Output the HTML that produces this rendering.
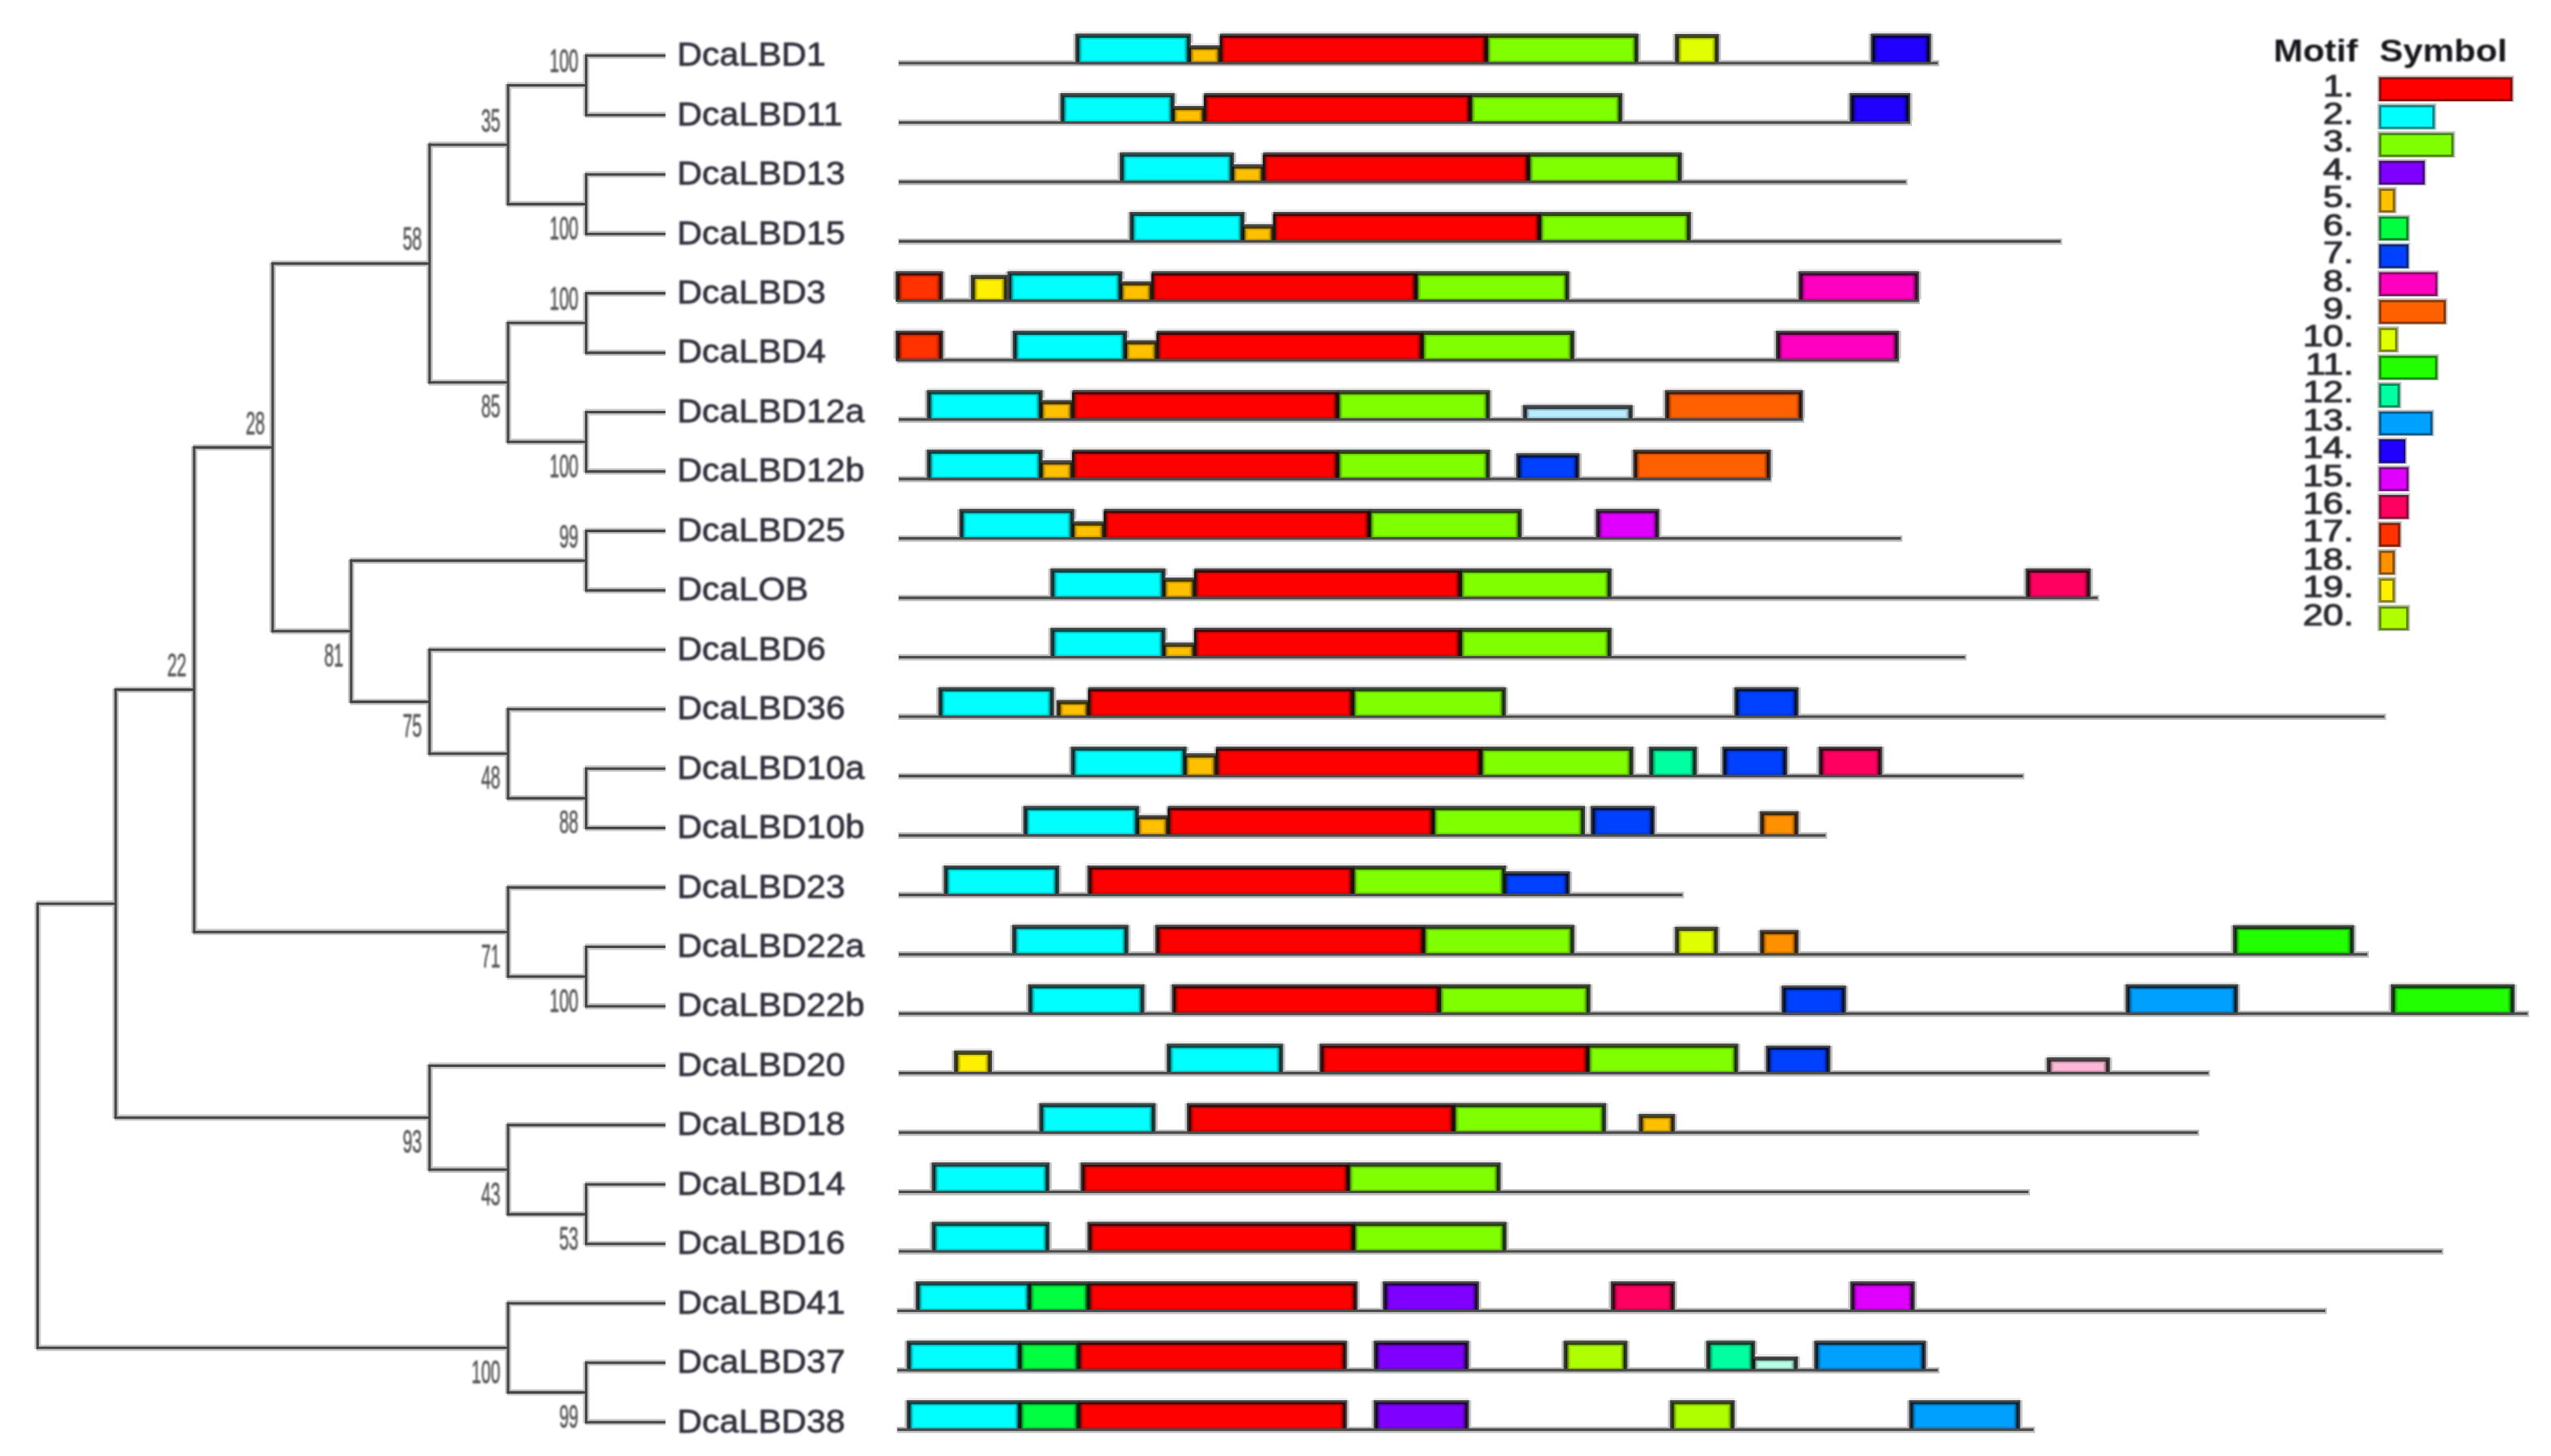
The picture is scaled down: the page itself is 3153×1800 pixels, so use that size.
<!DOCTYPE html>
<html><head><meta charset="utf-8"><title>DcaLBD phylogeny and motifs</title>
<style>html,body{margin:0;padding:0;background:#fff}svg{display:block}text{font-family:"Liberation Sans",sans-serif}.lab{font-size:40px;fill:#33333e;stroke:#33333e;stroke-width:0.8px}.bs{font-size:40px;fill:#555;stroke:#555;stroke-width:0.7px}.hd{font-size:38px;font-weight:bold;fill:#15151a}.ln{font-size:37px;fill:#2a2a30;stroke:#2a2a30;stroke-width:1.1px}</style></head><body>
<svg width="3153" height="1800" viewBox="0 0 3153 1800">
<defs><filter id="bl" x="-2%" y="-2%" width="104%" height="104%"><feGaussianBlur stdDeviation="0.6"/></filter><filter id="bt" x="-2%" y="-2%" width="104%" height="104%"><feGaussianBlur stdDeviation="0.95"/></filter></defs>
<rect width="3153" height="1800" fill="#fff"/>
<g filter="url(#bl)">
<g stroke="#c6c6c6" stroke-width="7.8" stroke-linecap="butt" fill="none">
<line x1="723.1" y1="68.8" x2="822.5" y2="68.8"/>
<line x1="723.1" y1="142.2" x2="822.5" y2="142.2"/>
<line x1="724.5" y1="67.4" x2="724.5" y2="143.7"/>
<line x1="626.6" y1="105.5" x2="725.5" y2="105.5"/>
<line x1="723.1" y1="215.7" x2="822.5" y2="215.7"/>
<line x1="723.1" y1="289.2" x2="822.5" y2="289.2"/>
<line x1="724.5" y1="214.3" x2="724.5" y2="290.6"/>
<line x1="626.6" y1="252.4" x2="725.5" y2="252.4"/>
<line x1="628.0" y1="104.1" x2="628.0" y2="253.8"/>
<line x1="529.6" y1="179.0" x2="629.0" y2="179.0"/>
<line x1="723.1" y1="362.6" x2="822.5" y2="362.6"/>
<line x1="723.1" y1="436.1" x2="822.5" y2="436.1"/>
<line x1="724.5" y1="361.2" x2="724.5" y2="437.4"/>
<line x1="626.6" y1="399.3" x2="725.5" y2="399.3"/>
<line x1="723.1" y1="509.5" x2="822.5" y2="509.5"/>
<line x1="723.1" y1="582.9" x2="822.5" y2="582.9"/>
<line x1="724.5" y1="508.1" x2="724.5" y2="584.3"/>
<line x1="626.6" y1="546.2" x2="725.5" y2="546.2"/>
<line x1="628.0" y1="397.9" x2="628.0" y2="547.6"/>
<line x1="529.6" y1="472.8" x2="629.0" y2="472.8"/>
<line x1="531.0" y1="177.6" x2="531.0" y2="474.2"/>
<line x1="335.6" y1="325.9" x2="532.0" y2="325.9"/>
<line x1="723.1" y1="656.4" x2="822.5" y2="656.4"/>
<line x1="723.1" y1="729.9" x2="822.5" y2="729.9"/>
<line x1="724.5" y1="655.0" x2="724.5" y2="731.2"/>
<line x1="432.6" y1="693.1" x2="725.5" y2="693.1"/>
<line x1="529.6" y1="803.3" x2="822.5" y2="803.3"/>
<line x1="626.6" y1="876.8" x2="822.5" y2="876.8"/>
<line x1="723.1" y1="950.2" x2="822.5" y2="950.2"/>
<line x1="723.1" y1="1023.6" x2="822.5" y2="1023.6"/>
<line x1="724.5" y1="948.8" x2="724.5" y2="1025.0"/>
<line x1="626.6" y1="986.9" x2="725.5" y2="986.9"/>
<line x1="628.0" y1="875.4" x2="628.0" y2="988.3"/>
<line x1="529.6" y1="931.8" x2="629.0" y2="931.8"/>
<line x1="531.0" y1="801.9" x2="531.0" y2="933.2"/>
<line x1="432.6" y1="867.6" x2="532.0" y2="867.6"/>
<line x1="434.0" y1="691.7" x2="434.0" y2="869.0"/>
<line x1="335.6" y1="780.3" x2="435.0" y2="780.3"/>
<line x1="337.0" y1="324.5" x2="337.0" y2="781.7"/>
<line x1="238.6" y1="553.1" x2="338.0" y2="553.1"/>
<line x1="626.6" y1="1097.1" x2="822.5" y2="1097.1"/>
<line x1="723.1" y1="1170.5" x2="822.5" y2="1170.5"/>
<line x1="723.1" y1="1244.0" x2="822.5" y2="1244.0"/>
<line x1="724.5" y1="1169.1" x2="724.5" y2="1245.4"/>
<line x1="626.6" y1="1207.3" x2="725.5" y2="1207.3"/>
<line x1="628.0" y1="1095.7" x2="628.0" y2="1208.7"/>
<line x1="238.6" y1="1152.2" x2="629.0" y2="1152.2"/>
<line x1="240.0" y1="551.7" x2="240.0" y2="1153.6"/>
<line x1="141.6" y1="852.6" x2="241.0" y2="852.6"/>
<line x1="529.6" y1="1317.5" x2="822.5" y2="1317.5"/>
<line x1="626.6" y1="1390.9" x2="822.5" y2="1390.9"/>
<line x1="723.1" y1="1464.3" x2="822.5" y2="1464.3"/>
<line x1="723.1" y1="1537.8" x2="822.5" y2="1537.8"/>
<line x1="724.5" y1="1462.9" x2="724.5" y2="1539.2"/>
<line x1="626.6" y1="1501.1" x2="725.5" y2="1501.1"/>
<line x1="628.0" y1="1389.5" x2="628.0" y2="1502.5"/>
<line x1="529.6" y1="1446.0" x2="629.0" y2="1446.0"/>
<line x1="531.0" y1="1316.0" x2="531.0" y2="1447.4"/>
<line x1="141.6" y1="1381.7" x2="532.0" y2="1381.7"/>
<line x1="143.0" y1="851.2" x2="143.0" y2="1383.1"/>
<line x1="45.1" y1="1117.2" x2="144.0" y2="1117.2"/>
<line x1="626.6" y1="1611.2" x2="822.5" y2="1611.2"/>
<line x1="723.1" y1="1684.7" x2="822.5" y2="1684.7"/>
<line x1="723.1" y1="1758.2" x2="822.5" y2="1758.2"/>
<line x1="724.5" y1="1683.3" x2="724.5" y2="1759.6"/>
<line x1="626.6" y1="1721.4" x2="725.5" y2="1721.4"/>
<line x1="628.0" y1="1609.8" x2="628.0" y2="1722.8"/>
<line x1="45.1" y1="1666.3" x2="629.0" y2="1666.3"/>
<line x1="46.5" y1="1115.8" x2="46.5" y2="1667.7"/>
</g>
<g stroke="#444444" stroke-width="3.1" stroke-linecap="butt" fill="none">
<line x1="723.1" y1="68.8" x2="822.5" y2="68.8"/>
<line x1="723.1" y1="142.2" x2="822.5" y2="142.2"/>
<line x1="724.5" y1="67.4" x2="724.5" y2="143.7"/>
<line x1="626.6" y1="105.5" x2="725.5" y2="105.5"/>
<line x1="723.1" y1="215.7" x2="822.5" y2="215.7"/>
<line x1="723.1" y1="289.2" x2="822.5" y2="289.2"/>
<line x1="724.5" y1="214.3" x2="724.5" y2="290.6"/>
<line x1="626.6" y1="252.4" x2="725.5" y2="252.4"/>
<line x1="628.0" y1="104.1" x2="628.0" y2="253.8"/>
<line x1="529.6" y1="179.0" x2="629.0" y2="179.0"/>
<line x1="723.1" y1="362.6" x2="822.5" y2="362.6"/>
<line x1="723.1" y1="436.1" x2="822.5" y2="436.1"/>
<line x1="724.5" y1="361.2" x2="724.5" y2="437.4"/>
<line x1="626.6" y1="399.3" x2="725.5" y2="399.3"/>
<line x1="723.1" y1="509.5" x2="822.5" y2="509.5"/>
<line x1="723.1" y1="582.9" x2="822.5" y2="582.9"/>
<line x1="724.5" y1="508.1" x2="724.5" y2="584.3"/>
<line x1="626.6" y1="546.2" x2="725.5" y2="546.2"/>
<line x1="628.0" y1="397.9" x2="628.0" y2="547.6"/>
<line x1="529.6" y1="472.8" x2="629.0" y2="472.8"/>
<line x1="531.0" y1="177.6" x2="531.0" y2="474.2"/>
<line x1="335.6" y1="325.9" x2="532.0" y2="325.9"/>
<line x1="723.1" y1="656.4" x2="822.5" y2="656.4"/>
<line x1="723.1" y1="729.9" x2="822.5" y2="729.9"/>
<line x1="724.5" y1="655.0" x2="724.5" y2="731.2"/>
<line x1="432.6" y1="693.1" x2="725.5" y2="693.1"/>
<line x1="529.6" y1="803.3" x2="822.5" y2="803.3"/>
<line x1="626.6" y1="876.8" x2="822.5" y2="876.8"/>
<line x1="723.1" y1="950.2" x2="822.5" y2="950.2"/>
<line x1="723.1" y1="1023.6" x2="822.5" y2="1023.6"/>
<line x1="724.5" y1="948.8" x2="724.5" y2="1025.0"/>
<line x1="626.6" y1="986.9" x2="725.5" y2="986.9"/>
<line x1="628.0" y1="875.4" x2="628.0" y2="988.3"/>
<line x1="529.6" y1="931.8" x2="629.0" y2="931.8"/>
<line x1="531.0" y1="801.9" x2="531.0" y2="933.2"/>
<line x1="432.6" y1="867.6" x2="532.0" y2="867.6"/>
<line x1="434.0" y1="691.7" x2="434.0" y2="869.0"/>
<line x1="335.6" y1="780.3" x2="435.0" y2="780.3"/>
<line x1="337.0" y1="324.5" x2="337.0" y2="781.7"/>
<line x1="238.6" y1="553.1" x2="338.0" y2="553.1"/>
<line x1="626.6" y1="1097.1" x2="822.5" y2="1097.1"/>
<line x1="723.1" y1="1170.5" x2="822.5" y2="1170.5"/>
<line x1="723.1" y1="1244.0" x2="822.5" y2="1244.0"/>
<line x1="724.5" y1="1169.1" x2="724.5" y2="1245.4"/>
<line x1="626.6" y1="1207.3" x2="725.5" y2="1207.3"/>
<line x1="628.0" y1="1095.7" x2="628.0" y2="1208.7"/>
<line x1="238.6" y1="1152.2" x2="629.0" y2="1152.2"/>
<line x1="240.0" y1="551.7" x2="240.0" y2="1153.6"/>
<line x1="141.6" y1="852.6" x2="241.0" y2="852.6"/>
<line x1="529.6" y1="1317.5" x2="822.5" y2="1317.5"/>
<line x1="626.6" y1="1390.9" x2="822.5" y2="1390.9"/>
<line x1="723.1" y1="1464.3" x2="822.5" y2="1464.3"/>
<line x1="723.1" y1="1537.8" x2="822.5" y2="1537.8"/>
<line x1="724.5" y1="1462.9" x2="724.5" y2="1539.2"/>
<line x1="626.6" y1="1501.1" x2="725.5" y2="1501.1"/>
<line x1="628.0" y1="1389.5" x2="628.0" y2="1502.5"/>
<line x1="529.6" y1="1446.0" x2="629.0" y2="1446.0"/>
<line x1="531.0" y1="1316.0" x2="531.0" y2="1447.4"/>
<line x1="141.6" y1="1381.7" x2="532.0" y2="1381.7"/>
<line x1="143.0" y1="851.2" x2="143.0" y2="1383.1"/>
<line x1="45.1" y1="1117.2" x2="144.0" y2="1117.2"/>
<line x1="626.6" y1="1611.2" x2="822.5" y2="1611.2"/>
<line x1="723.1" y1="1684.7" x2="822.5" y2="1684.7"/>
<line x1="723.1" y1="1758.2" x2="822.5" y2="1758.2"/>
<line x1="724.5" y1="1683.3" x2="724.5" y2="1759.6"/>
<line x1="626.6" y1="1721.4" x2="725.5" y2="1721.4"/>
<line x1="628.0" y1="1609.8" x2="628.0" y2="1722.8"/>
<line x1="45.1" y1="1666.3" x2="629.0" y2="1666.3"/>
<line x1="46.5" y1="1115.8" x2="46.5" y2="1667.7"/>
</g>
<line x1="1110.2" y1="78.2" x2="2397" y2="78.2" stroke="#bebebe" stroke-width="7.8"/>
<rect x="1329.2" y="38.7" width="142.6" height="40.5" fill="#e9e9e9"/>
<rect x="1326.5" y="41.7" width="148.0" height="34.5" fill="#c6c6c8"/>
<rect x="1469.6" y="53.1" width="40.6" height="26.1" fill="#e9e9e9"/>
<rect x="1466.9" y="56.1" width="46.0" height="20.1" fill="#c6c6c8"/>
<rect x="1508.0" y="38.7" width="331.2" height="40.5" fill="#e9e9e9"/>
<rect x="1505.3" y="41.7" width="336.6" height="34.5" fill="#c6c6c8"/>
<rect x="1837.0" y="38.7" width="188.2" height="40.5" fill="#e9e9e9"/>
<rect x="1834.3" y="41.7" width="193.6" height="34.5" fill="#c6c6c8"/>
<rect x="2070.2" y="39.1" width="54.3" height="40.1" fill="#e9e9e9"/>
<rect x="2067.5" y="42.1" width="59.7" height="34.1" fill="#c6c6c8"/>
<rect x="2312.3" y="38.7" width="74.4" height="40.5" fill="#e9e9e9"/>
<rect x="2309.6" y="41.7" width="79.8" height="34.5" fill="#c6c6c8"/>
<rect x="1329.2" y="41.7" width="142.6" height="37.5" fill="#3e3e3e"/>
<rect x="1331.5" y="41.7" width="138.0" height="2.7" fill="#4a4a4a"/>
<rect x="1469.6" y="56.1" width="40.6" height="23.1" fill="#3e3e3e"/>
<rect x="1471.9" y="56.1" width="36.0" height="2.7" fill="#4a4a4a"/>
<rect x="1469.2" y="58.8" width="2.7" height="20.4" fill="#121612"/>
<rect x="1508.0" y="41.7" width="331.2" height="37.5" fill="#3e3e3e"/>
<rect x="1510.3" y="41.7" width="326.6" height="2.7" fill="#4a4a4a"/>
<rect x="1507.6" y="44.4" width="2.7" height="34.8" fill="#121612"/>
<rect x="1837.0" y="41.7" width="188.2" height="37.5" fill="#3e3e3e"/>
<rect x="1839.3" y="41.7" width="183.6" height="2.7" fill="#4a4a4a"/>
<rect x="1836.6" y="44.4" width="2.7" height="34.8" fill="#121612"/>
<rect x="2070.2" y="42.1" width="54.3" height="37.1" fill="#3e3e3e"/>
<rect x="2072.5" y="42.1" width="49.7" height="2.7" fill="#4a4a4a"/>
<rect x="2312.3" y="41.7" width="74.4" height="37.5" fill="#3e3e3e"/>
<rect x="2314.6" y="41.7" width="69.8" height="2.7" fill="#4a4a4a"/>
<rect x="1331.5" y="44.4" width="138.0" height="34.8" fill="#002d2d"/>
<rect x="1333.8" y="44.4" width="133.4" height="2.5" fill="#004c4c"/>
<rect x="1333.8" y="46.9" width="133.4" height="30.0" fill="#009999"/>
<rect x="1335.6" y="46.9" width="129.8" height="30.0" fill="#00dbdb"/>
<rect x="1337.6" y="48.9" width="125.8" height="25.5" fill="#00ffff"/>
<rect x="1471.9" y="58.8" width="36.0" height="20.4" fill="#2d2200"/>
<rect x="1471.9" y="58.8" width="33.7" height="2.5" fill="#4c3900"/>
<rect x="1471.9" y="61.3" width="33.7" height="15.6" fill="#997300"/>
<rect x="1473.7" y="61.3" width="30.1" height="15.6" fill="#dba500"/>
<rect x="1475.7" y="63.3" width="26.1" height="11.1" fill="#ffc000"/>
<rect x="1510.3" y="44.4" width="326.6" height="34.8" fill="#2d0000"/>
<rect x="1510.3" y="44.4" width="324.3" height="2.5" fill="#4c0000"/>
<rect x="1510.3" y="46.9" width="324.3" height="30.0" fill="#990000"/>
<rect x="1512.1" y="46.9" width="320.7" height="30.0" fill="#db0000"/>
<rect x="1514.1" y="48.9" width="316.7" height="25.5" fill="#ff0000"/>
<rect x="1839.3" y="44.4" width="183.6" height="34.8" fill="#172d00"/>
<rect x="1839.3" y="44.4" width="181.3" height="2.5" fill="#264c00"/>
<rect x="1839.3" y="46.9" width="181.3" height="30.0" fill="#4c9900"/>
<rect x="1841.1" y="46.9" width="177.7" height="30.0" fill="#6edb00"/>
<rect x="1843.1" y="48.9" width="173.7" height="25.5" fill="#80ff00"/>
<rect x="2072.5" y="44.8" width="49.7" height="34.4" fill="#282d00"/>
<rect x="2074.8" y="44.8" width="45.1" height="2.5" fill="#434c00"/>
<rect x="2074.8" y="47.3" width="45.1" height="29.6" fill="#869900"/>
<rect x="2076.6" y="47.3" width="41.5" height="29.6" fill="#c0db00"/>
<rect x="2078.6" y="49.3" width="37.5" height="25.1" fill="#e0ff00"/>
<rect x="2314.6" y="44.4" width="69.8" height="34.8" fill="#05002d"/>
<rect x="2316.9" y="44.4" width="65.2" height="2.5" fill="#09004c"/>
<rect x="2316.9" y="46.9" width="65.2" height="30.0" fill="#130099"/>
<rect x="2318.7" y="46.9" width="61.6" height="30.0" fill="#1b00db"/>
<rect x="2320.7" y="48.9" width="57.6" height="25.5" fill="#2000ff"/>
<line x1="1111.0" y1="78.0" x2="2395" y2="78.0" stroke="#4c4c4c" stroke-width="3.2"/>
<line x1="1110.2" y1="151.7" x2="2363" y2="151.7" stroke="#bebebe" stroke-width="7.8"/>
<rect x="1310.6" y="112.2" width="141.1" height="40.5" fill="#e9e9e9"/>
<rect x="1307.9" y="115.2" width="146.5" height="34.5" fill="#c6c6c8"/>
<rect x="1449.5" y="128.1" width="41.0" height="24.6" fill="#e9e9e9"/>
<rect x="1446.8" y="131.1" width="46.4" height="18.6" fill="#c6c6c8"/>
<rect x="1488.3" y="112.2" width="331.0" height="40.5" fill="#e9e9e9"/>
<rect x="1485.6" y="115.2" width="336.4" height="34.5" fill="#c6c6c8"/>
<rect x="1817.1" y="112.2" width="188.1" height="40.5" fill="#e9e9e9"/>
<rect x="1814.4" y="115.2" width="193.5" height="34.5" fill="#c6c6c8"/>
<rect x="2286.2" y="112.2" width="74.8" height="40.5" fill="#e9e9e9"/>
<rect x="2283.5" y="115.2" width="80.2" height="34.5" fill="#c6c6c8"/>
<rect x="1310.6" y="115.2" width="141.1" height="37.5" fill="#3e3e3e"/>
<rect x="1312.9" y="115.2" width="136.5" height="2.7" fill="#4a4a4a"/>
<rect x="1449.5" y="131.1" width="41.0" height="21.6" fill="#3e3e3e"/>
<rect x="1451.8" y="131.1" width="36.4" height="2.7" fill="#4a4a4a"/>
<rect x="1449.1" y="133.8" width="2.7" height="18.9" fill="#121612"/>
<rect x="1488.3" y="115.2" width="331.0" height="37.5" fill="#3e3e3e"/>
<rect x="1490.6" y="115.2" width="326.4" height="2.7" fill="#4a4a4a"/>
<rect x="1487.9" y="117.9" width="2.7" height="34.8" fill="#121612"/>
<rect x="1817.1" y="115.2" width="188.1" height="37.5" fill="#3e3e3e"/>
<rect x="1819.4" y="115.2" width="183.5" height="2.7" fill="#4a4a4a"/>
<rect x="1816.7" y="117.9" width="2.7" height="34.8" fill="#121612"/>
<rect x="2286.2" y="115.2" width="74.8" height="37.5" fill="#3e3e3e"/>
<rect x="2288.5" y="115.2" width="70.2" height="2.7" fill="#4a4a4a"/>
<rect x="1312.9" y="117.9" width="136.5" height="34.8" fill="#002d2d"/>
<rect x="1315.2" y="117.9" width="131.9" height="2.5" fill="#004c4c"/>
<rect x="1315.2" y="120.4" width="131.9" height="30.0" fill="#009999"/>
<rect x="1317.0" y="120.4" width="128.3" height="30.0" fill="#00dbdb"/>
<rect x="1319.0" y="122.4" width="124.3" height="25.5" fill="#00ffff"/>
<rect x="1451.8" y="133.8" width="36.4" height="18.9" fill="#2d2200"/>
<rect x="1451.8" y="133.8" width="34.1" height="2.5" fill="#4c3900"/>
<rect x="1451.8" y="136.2" width="34.1" height="14.1" fill="#997300"/>
<rect x="1453.6" y="136.2" width="30.5" height="14.1" fill="#dba500"/>
<rect x="1455.6" y="138.2" width="26.5" height="9.6" fill="#ffc000"/>
<rect x="1490.6" y="117.9" width="326.4" height="34.8" fill="#2d0000"/>
<rect x="1490.6" y="117.9" width="324.1" height="2.5" fill="#4c0000"/>
<rect x="1490.6" y="120.4" width="324.1" height="30.0" fill="#990000"/>
<rect x="1492.4" y="120.4" width="320.5" height="30.0" fill="#db0000"/>
<rect x="1494.4" y="122.4" width="316.5" height="25.5" fill="#ff0000"/>
<rect x="1819.4" y="117.9" width="183.5" height="34.8" fill="#172d00"/>
<rect x="1819.4" y="117.9" width="181.2" height="2.5" fill="#264c00"/>
<rect x="1819.4" y="120.4" width="181.2" height="30.0" fill="#4c9900"/>
<rect x="1821.2" y="120.4" width="177.6" height="30.0" fill="#6edb00"/>
<rect x="1823.2" y="122.4" width="173.6" height="25.5" fill="#80ff00"/>
<rect x="2288.5" y="117.9" width="70.2" height="34.8" fill="#05002d"/>
<rect x="2290.8" y="117.9" width="65.6" height="2.5" fill="#09004c"/>
<rect x="2290.8" y="120.4" width="65.6" height="30.0" fill="#130099"/>
<rect x="2292.6" y="120.4" width="62.0" height="30.0" fill="#1b00db"/>
<rect x="2294.6" y="122.4" width="58.0" height="25.5" fill="#2000ff"/>
<line x1="1111.0" y1="151.5" x2="2361" y2="151.5" stroke="#4c4c4c" stroke-width="3.2"/>
<line x1="1110.2" y1="225.1" x2="2357.7" y2="225.1" stroke="#bebebe" stroke-width="7.8"/>
<rect x="1384.0" y="185.6" width="141.1" height="40.5" fill="#e9e9e9"/>
<rect x="1381.3" y="188.6" width="146.5" height="34.5" fill="#c6c6c8"/>
<rect x="1522.9" y="200.4" width="40.5" height="25.7" fill="#e9e9e9"/>
<rect x="1520.2" y="203.4" width="45.9" height="19.7" fill="#c6c6c8"/>
<rect x="1561.2" y="185.6" width="330.0" height="40.5" fill="#e9e9e9"/>
<rect x="1558.5" y="188.6" width="335.4" height="34.5" fill="#c6c6c8"/>
<rect x="1889.0" y="185.6" width="189.7" height="40.5" fill="#e9e9e9"/>
<rect x="1886.3" y="188.6" width="195.1" height="34.5" fill="#c6c6c8"/>
<rect x="1384.0" y="188.6" width="141.1" height="37.5" fill="#3e3e3e"/>
<rect x="1386.3" y="188.6" width="136.5" height="2.7" fill="#4a4a4a"/>
<rect x="1522.9" y="203.4" width="40.5" height="22.7" fill="#3e3e3e"/>
<rect x="1525.2" y="203.4" width="35.9" height="2.7" fill="#4a4a4a"/>
<rect x="1522.5" y="206.1" width="2.7" height="20.0" fill="#121612"/>
<rect x="1561.2" y="188.6" width="330.0" height="37.5" fill="#3e3e3e"/>
<rect x="1563.5" y="188.6" width="325.4" height="2.7" fill="#4a4a4a"/>
<rect x="1560.8" y="191.3" width="2.7" height="34.8" fill="#121612"/>
<rect x="1889.0" y="188.6" width="189.7" height="37.5" fill="#3e3e3e"/>
<rect x="1891.3" y="188.6" width="185.1" height="2.7" fill="#4a4a4a"/>
<rect x="1888.6" y="191.3" width="2.7" height="34.8" fill="#121612"/>
<rect x="1386.3" y="191.3" width="136.5" height="34.8" fill="#002d2d"/>
<rect x="1388.6" y="191.3" width="131.9" height="2.5" fill="#004c4c"/>
<rect x="1388.6" y="193.8" width="131.9" height="30.0" fill="#009999"/>
<rect x="1390.4" y="193.8" width="128.3" height="30.0" fill="#00dbdb"/>
<rect x="1392.4" y="195.8" width="124.3" height="25.5" fill="#00ffff"/>
<rect x="1525.2" y="206.1" width="35.9" height="20.0" fill="#2d2200"/>
<rect x="1525.2" y="206.1" width="33.6" height="2.5" fill="#4c3900"/>
<rect x="1525.2" y="208.6" width="33.6" height="15.2" fill="#997300"/>
<rect x="1527.0" y="208.6" width="30.0" height="15.2" fill="#dba500"/>
<rect x="1529.0" y="210.6" width="26.0" height="10.7" fill="#ffc000"/>
<rect x="1563.5" y="191.3" width="325.4" height="34.8" fill="#2d0000"/>
<rect x="1563.5" y="191.3" width="323.1" height="2.5" fill="#4c0000"/>
<rect x="1563.5" y="193.8" width="323.1" height="30.0" fill="#990000"/>
<rect x="1565.3" y="193.8" width="319.5" height="30.0" fill="#db0000"/>
<rect x="1567.3" y="195.8" width="315.5" height="25.5" fill="#ff0000"/>
<rect x="1891.3" y="191.3" width="185.1" height="34.8" fill="#172d00"/>
<rect x="1891.3" y="191.3" width="182.8" height="2.5" fill="#264c00"/>
<rect x="1891.3" y="193.8" width="182.8" height="30.0" fill="#4c9900"/>
<rect x="1893.1" y="193.8" width="179.2" height="30.0" fill="#6edb00"/>
<rect x="1895.1" y="195.8" width="175.2" height="25.5" fill="#80ff00"/>
<line x1="1111.0" y1="224.9" x2="2355.7" y2="224.9" stroke="#4c4c4c" stroke-width="3.2"/>
<line x1="1110.2" y1="298.6" x2="2548.8" y2="298.6" stroke="#bebebe" stroke-width="7.8"/>
<rect x="1396.3" y="259.1" width="141.8" height="40.5" fill="#e9e9e9"/>
<rect x="1393.6" y="262.1" width="147.2" height="34.5" fill="#c6c6c8"/>
<rect x="1535.9" y="274.5" width="40.2" height="25.1" fill="#e9e9e9"/>
<rect x="1533.2" y="277.5" width="45.6" height="19.1" fill="#c6c6c8"/>
<rect x="1573.9" y="259.1" width="331.1" height="40.5" fill="#e9e9e9"/>
<rect x="1571.2" y="262.1" width="336.5" height="34.5" fill="#c6c6c8"/>
<rect x="1902.8" y="259.1" width="187.1" height="40.5" fill="#e9e9e9"/>
<rect x="1900.1" y="262.1" width="192.5" height="34.5" fill="#c6c6c8"/>
<rect x="1396.3" y="262.1" width="141.8" height="37.5" fill="#3e3e3e"/>
<rect x="1398.6" y="262.1" width="137.2" height="2.7" fill="#4a4a4a"/>
<rect x="1535.9" y="277.5" width="40.2" height="22.1" fill="#3e3e3e"/>
<rect x="1538.2" y="277.5" width="35.6" height="2.7" fill="#4a4a4a"/>
<rect x="1535.5" y="280.2" width="2.7" height="19.4" fill="#121612"/>
<rect x="1573.9" y="262.1" width="331.1" height="37.5" fill="#3e3e3e"/>
<rect x="1576.2" y="262.1" width="326.5" height="2.7" fill="#4a4a4a"/>
<rect x="1573.5" y="264.8" width="2.7" height="34.8" fill="#121612"/>
<rect x="1902.8" y="262.1" width="187.1" height="37.5" fill="#3e3e3e"/>
<rect x="1905.1" y="262.1" width="182.5" height="2.7" fill="#4a4a4a"/>
<rect x="1902.4" y="264.8" width="2.7" height="34.8" fill="#121612"/>
<rect x="1398.6" y="264.8" width="137.2" height="34.8" fill="#002d2d"/>
<rect x="1400.9" y="264.8" width="132.6" height="2.5" fill="#004c4c"/>
<rect x="1400.9" y="267.2" width="132.6" height="30.0" fill="#009999"/>
<rect x="1402.7" y="267.2" width="129.0" height="30.0" fill="#00dbdb"/>
<rect x="1404.7" y="269.2" width="125.0" height="25.5" fill="#00ffff"/>
<rect x="1538.2" y="280.2" width="35.6" height="19.4" fill="#2d2200"/>
<rect x="1538.2" y="280.2" width="33.3" height="2.5" fill="#4c3900"/>
<rect x="1538.2" y="282.7" width="33.3" height="14.6" fill="#997300"/>
<rect x="1540.0" y="282.7" width="29.7" height="14.6" fill="#dba500"/>
<rect x="1542.0" y="284.7" width="25.7" height="10.1" fill="#ffc000"/>
<rect x="1576.2" y="264.8" width="326.5" height="34.8" fill="#2d0000"/>
<rect x="1576.2" y="264.8" width="324.2" height="2.5" fill="#4c0000"/>
<rect x="1576.2" y="267.2" width="324.2" height="30.0" fill="#990000"/>
<rect x="1578.0" y="267.2" width="320.6" height="30.0" fill="#db0000"/>
<rect x="1580.0" y="269.2" width="316.6" height="25.5" fill="#ff0000"/>
<rect x="1905.1" y="264.8" width="182.5" height="34.8" fill="#172d00"/>
<rect x="1905.1" y="264.8" width="180.2" height="2.5" fill="#264c00"/>
<rect x="1905.1" y="267.2" width="180.2" height="30.0" fill="#4c9900"/>
<rect x="1906.9" y="267.2" width="176.6" height="30.0" fill="#6edb00"/>
<rect x="1908.9" y="269.2" width="172.6" height="25.5" fill="#80ff00"/>
<line x1="1111.0" y1="298.4" x2="2546.8" y2="298.4" stroke="#4c4c4c" stroke-width="3.2"/>
<line x1="1108.4" y1="372.0" x2="2373" y2="372.0" stroke="#bebebe" stroke-width="7.8"/>
<rect x="1106.9" y="332.5" width="58.8" height="40.5" fill="#e9e9e9"/>
<rect x="1104.2" y="335.5" width="64.2" height="34.5" fill="#c6c6c8"/>
<rect x="1200.0" y="336.9" width="45.8" height="36.1" fill="#e9e9e9"/>
<rect x="1197.3" y="339.9" width="51.2" height="30.1" fill="#c6c6c8"/>
<rect x="1245.4" y="332.5" width="141.8" height="40.5" fill="#e9e9e9"/>
<rect x="1242.7" y="335.5" width="147.2" height="34.5" fill="#c6c6c8"/>
<rect x="1385.0" y="344.9" width="40.7" height="28.1" fill="#e9e9e9"/>
<rect x="1382.3" y="347.9" width="46.1" height="22.1" fill="#c6c6c8"/>
<rect x="1423.5" y="332.5" width="328.7" height="40.5" fill="#e9e9e9"/>
<rect x="1420.8" y="335.5" width="334.1" height="34.5" fill="#c6c6c8"/>
<rect x="1750.0" y="332.5" width="189.6" height="40.5" fill="#e9e9e9"/>
<rect x="1747.3" y="335.5" width="195.0" height="34.5" fill="#c6c6c8"/>
<rect x="2222.9" y="332.5" width="148.9" height="40.5" fill="#e9e9e9"/>
<rect x="2220.2" y="335.5" width="154.3" height="34.5" fill="#c6c6c8"/>
<rect x="1106.9" y="335.5" width="58.8" height="37.5" fill="#3e3e3e"/>
<rect x="1109.2" y="335.5" width="54.2" height="2.7" fill="#4a4a4a"/>
<rect x="1200.0" y="339.9" width="45.8" height="33.1" fill="#3e3e3e"/>
<rect x="1202.3" y="339.9" width="41.2" height="2.7" fill="#4a4a4a"/>
<rect x="1245.4" y="335.5" width="141.8" height="37.5" fill="#3e3e3e"/>
<rect x="1247.7" y="335.5" width="137.2" height="2.7" fill="#4a4a4a"/>
<rect x="1385.0" y="347.9" width="40.7" height="25.1" fill="#3e3e3e"/>
<rect x="1387.3" y="347.9" width="36.1" height="2.7" fill="#4a4a4a"/>
<rect x="1384.6" y="350.6" width="2.7" height="22.4" fill="#121612"/>
<rect x="1423.5" y="335.5" width="328.7" height="37.5" fill="#3e3e3e"/>
<rect x="1425.8" y="335.5" width="324.1" height="2.7" fill="#4a4a4a"/>
<rect x="1423.1" y="338.2" width="2.7" height="34.8" fill="#121612"/>
<rect x="1750.0" y="335.5" width="189.6" height="37.5" fill="#3e3e3e"/>
<rect x="1752.3" y="335.5" width="185.0" height="2.7" fill="#4a4a4a"/>
<rect x="1749.6" y="338.2" width="2.7" height="34.8" fill="#121612"/>
<rect x="2222.9" y="335.5" width="148.9" height="37.5" fill="#3e3e3e"/>
<rect x="2225.2" y="335.5" width="144.3" height="2.7" fill="#4a4a4a"/>
<rect x="1109.2" y="338.2" width="54.2" height="34.8" fill="#2d0800"/>
<rect x="1111.5" y="338.2" width="49.6" height="2.5" fill="#4c0e00"/>
<rect x="1111.5" y="340.7" width="49.6" height="30.0" fill="#991c00"/>
<rect x="1113.3" y="340.7" width="46.0" height="30.0" fill="#db2900"/>
<rect x="1115.3" y="342.7" width="42.0" height="25.5" fill="#ff3000"/>
<rect x="1202.3" y="342.6" width="41.2" height="30.4" fill="#2d2b00"/>
<rect x="1204.6" y="342.6" width="36.6" height="2.5" fill="#4c4800"/>
<rect x="1204.6" y="345.1" width="36.6" height="25.6" fill="#999000"/>
<rect x="1206.4" y="345.1" width="33.0" height="25.6" fill="#dbce00"/>
<rect x="1208.4" y="347.1" width="29.0" height="21.1" fill="#fff000"/>
<rect x="1247.7" y="338.2" width="137.2" height="34.8" fill="#002d2d"/>
<rect x="1250.0" y="338.2" width="132.6" height="2.5" fill="#004c4c"/>
<rect x="1250.0" y="340.7" width="132.6" height="30.0" fill="#009999"/>
<rect x="1251.8" y="340.7" width="129.0" height="30.0" fill="#00dbdb"/>
<rect x="1253.8" y="342.7" width="125.0" height="25.5" fill="#00ffff"/>
<rect x="1387.3" y="350.6" width="36.1" height="22.4" fill="#2d2200"/>
<rect x="1387.3" y="350.6" width="33.8" height="2.5" fill="#4c3900"/>
<rect x="1387.3" y="353.1" width="33.8" height="17.6" fill="#997300"/>
<rect x="1389.1" y="353.1" width="30.2" height="17.6" fill="#dba500"/>
<rect x="1391.1" y="355.1" width="26.2" height="13.1" fill="#ffc000"/>
<rect x="1425.8" y="338.2" width="324.1" height="34.8" fill="#2d0000"/>
<rect x="1425.8" y="338.2" width="321.8" height="2.5" fill="#4c0000"/>
<rect x="1425.8" y="340.7" width="321.8" height="30.0" fill="#990000"/>
<rect x="1427.6" y="340.7" width="318.2" height="30.0" fill="#db0000"/>
<rect x="1429.6" y="342.7" width="314.2" height="25.5" fill="#ff0000"/>
<rect x="1752.3" y="338.2" width="185.0" height="34.8" fill="#172d00"/>
<rect x="1752.3" y="338.2" width="182.7" height="2.5" fill="#264c00"/>
<rect x="1752.3" y="340.7" width="182.7" height="30.0" fill="#4c9900"/>
<rect x="1754.1" y="340.7" width="179.1" height="30.0" fill="#6edb00"/>
<rect x="1756.1" y="342.7" width="175.1" height="25.5" fill="#80ff00"/>
<rect x="2225.2" y="338.2" width="144.3" height="34.8" fill="#2d0022"/>
<rect x="2227.5" y="338.2" width="139.7" height="2.5" fill="#4c0039"/>
<rect x="2227.5" y="340.7" width="139.7" height="30.0" fill="#990073"/>
<rect x="2229.3" y="340.7" width="136.1" height="30.0" fill="#db00a5"/>
<rect x="2231.3" y="342.7" width="132.1" height="25.5" fill="#ff00c0"/>
<line x1="1109.2" y1="371.8" x2="2371" y2="371.8" stroke="#4c4c4c" stroke-width="3.2"/>
<line x1="1108.4" y1="445.4" x2="2348" y2="445.4" stroke="#bebebe" stroke-width="7.8"/>
<rect x="1107.0" y="405.9" width="58.7" height="40.5" fill="#e9e9e9"/>
<rect x="1104.3" y="408.9" width="64.1" height="34.5" fill="#c6c6c8"/>
<rect x="1251.8" y="405.9" width="141.1" height="40.5" fill="#e9e9e9"/>
<rect x="1249.1" y="408.9" width="146.5" height="34.5" fill="#c6c6c8"/>
<rect x="1390.7" y="417.8" width="41.3" height="28.7" fill="#e9e9e9"/>
<rect x="1388.0" y="420.8" width="46.7" height="22.7" fill="#c6c6c8"/>
<rect x="1429.8" y="405.9" width="329.9" height="40.5" fill="#e9e9e9"/>
<rect x="1427.1" y="408.9" width="335.3" height="34.5" fill="#c6c6c8"/>
<rect x="1757.5" y="405.9" width="188.4" height="40.5" fill="#e9e9e9"/>
<rect x="1754.8" y="408.9" width="193.8" height="34.5" fill="#c6c6c8"/>
<rect x="2195.0" y="405.9" width="151.9" height="40.5" fill="#e9e9e9"/>
<rect x="2192.3" y="408.9" width="157.3" height="34.5" fill="#c6c6c8"/>
<rect x="1107.0" y="408.9" width="58.7" height="37.5" fill="#3e3e3e"/>
<rect x="1109.3" y="408.9" width="54.1" height="2.7" fill="#4a4a4a"/>
<rect x="1251.8" y="408.9" width="141.1" height="37.5" fill="#3e3e3e"/>
<rect x="1254.1" y="408.9" width="136.5" height="2.7" fill="#4a4a4a"/>
<rect x="1390.7" y="420.8" width="41.3" height="25.7" fill="#3e3e3e"/>
<rect x="1393.0" y="420.8" width="36.7" height="2.7" fill="#4a4a4a"/>
<rect x="1390.3" y="423.4" width="2.7" height="23.0" fill="#121612"/>
<rect x="1429.8" y="408.9" width="329.9" height="37.5" fill="#3e3e3e"/>
<rect x="1432.1" y="408.9" width="325.3" height="2.7" fill="#4a4a4a"/>
<rect x="1429.4" y="411.6" width="2.7" height="34.8" fill="#121612"/>
<rect x="1757.5" y="408.9" width="188.4" height="37.5" fill="#3e3e3e"/>
<rect x="1759.8" y="408.9" width="183.8" height="2.7" fill="#4a4a4a"/>
<rect x="1757.1" y="411.6" width="2.7" height="34.8" fill="#121612"/>
<rect x="2195.0" y="408.9" width="151.9" height="37.5" fill="#3e3e3e"/>
<rect x="2197.3" y="408.9" width="147.3" height="2.7" fill="#4a4a4a"/>
<rect x="1109.3" y="411.6" width="54.1" height="34.8" fill="#2d0800"/>
<rect x="1111.6" y="411.6" width="49.5" height="2.5" fill="#4c0e00"/>
<rect x="1111.6" y="414.1" width="49.5" height="30.0" fill="#991c00"/>
<rect x="1113.4" y="414.1" width="45.9" height="30.0" fill="#db2900"/>
<rect x="1115.4" y="416.1" width="41.9" height="25.5" fill="#ff3000"/>
<rect x="1254.1" y="411.6" width="136.5" height="34.8" fill="#002d2d"/>
<rect x="1256.4" y="411.6" width="131.9" height="2.5" fill="#004c4c"/>
<rect x="1256.4" y="414.1" width="131.9" height="30.0" fill="#009999"/>
<rect x="1258.2" y="414.1" width="128.3" height="30.0" fill="#00dbdb"/>
<rect x="1260.2" y="416.1" width="124.3" height="25.5" fill="#00ffff"/>
<rect x="1393.0" y="423.4" width="36.7" height="23.0" fill="#2d2200"/>
<rect x="1393.0" y="423.4" width="34.4" height="2.5" fill="#4c3900"/>
<rect x="1393.0" y="425.9" width="34.4" height="18.2" fill="#997300"/>
<rect x="1394.8" y="425.9" width="30.8" height="18.2" fill="#dba500"/>
<rect x="1396.8" y="427.9" width="26.8" height="13.7" fill="#ffc000"/>
<rect x="1432.1" y="411.6" width="325.3" height="34.8" fill="#2d0000"/>
<rect x="1432.1" y="411.6" width="323.0" height="2.5" fill="#4c0000"/>
<rect x="1432.1" y="414.1" width="323.0" height="30.0" fill="#990000"/>
<rect x="1433.9" y="414.1" width="319.4" height="30.0" fill="#db0000"/>
<rect x="1435.9" y="416.1" width="315.4" height="25.5" fill="#ff0000"/>
<rect x="1759.8" y="411.6" width="183.8" height="34.8" fill="#172d00"/>
<rect x="1759.8" y="411.6" width="181.5" height="2.5" fill="#264c00"/>
<rect x="1759.8" y="414.1" width="181.5" height="30.0" fill="#4c9900"/>
<rect x="1761.6" y="414.1" width="177.9" height="30.0" fill="#6edb00"/>
<rect x="1763.6" y="416.1" width="173.9" height="25.5" fill="#80ff00"/>
<rect x="2197.3" y="411.6" width="147.3" height="34.8" fill="#2d0022"/>
<rect x="2199.6" y="411.6" width="142.7" height="2.5" fill="#4c0039"/>
<rect x="2199.6" y="414.1" width="142.7" height="30.0" fill="#990073"/>
<rect x="2201.4" y="414.1" width="139.1" height="30.0" fill="#db00a5"/>
<rect x="2203.4" y="416.1" width="135.1" height="25.5" fill="#ff00c0"/>
<line x1="1109.2" y1="445.2" x2="2346" y2="445.2" stroke="#4c4c4c" stroke-width="3.2"/>
<line x1="1110.2" y1="518.9" x2="2230" y2="518.9" stroke="#bebebe" stroke-width="7.8"/>
<rect x="1145.6" y="479.4" width="143.0" height="40.5" fill="#e9e9e9"/>
<rect x="1142.9" y="482.4" width="148.4" height="34.5" fill="#c6c6c8"/>
<rect x="1286.4" y="491.8" width="41.3" height="28.1" fill="#e9e9e9"/>
<rect x="1283.7" y="494.8" width="46.7" height="22.1" fill="#c6c6c8"/>
<rect x="1325.5" y="479.4" width="329.9" height="40.5" fill="#e9e9e9"/>
<rect x="1322.8" y="482.4" width="335.3" height="34.5" fill="#c6c6c8"/>
<rect x="1653.2" y="479.4" width="188.5" height="40.5" fill="#e9e9e9"/>
<rect x="1650.5" y="482.4" width="193.9" height="34.5" fill="#c6c6c8"/>
<rect x="1882.3" y="497.8" width="135.6" height="22.1" fill="#e9e9e9"/>
<rect x="1879.6" y="500.8" width="141.0" height="16.1" fill="#c6c6c8"/>
<rect x="2057.9" y="479.4" width="170.5" height="40.5" fill="#e9e9e9"/>
<rect x="2055.2" y="482.4" width="175.9" height="34.5" fill="#c6c6c8"/>
<rect x="1145.6" y="482.4" width="143.0" height="37.5" fill="#3e3e3e"/>
<rect x="1147.9" y="482.4" width="138.4" height="2.7" fill="#4a4a4a"/>
<rect x="1286.4" y="494.8" width="41.3" height="25.1" fill="#3e3e3e"/>
<rect x="1288.7" y="494.8" width="36.7" height="2.7" fill="#4a4a4a"/>
<rect x="1286.0" y="497.5" width="2.7" height="22.4" fill="#121612"/>
<rect x="1325.5" y="482.4" width="329.9" height="37.5" fill="#3e3e3e"/>
<rect x="1327.8" y="482.4" width="325.3" height="2.7" fill="#4a4a4a"/>
<rect x="1325.1" y="485.1" width="2.7" height="34.8" fill="#121612"/>
<rect x="1653.2" y="482.4" width="188.5" height="37.5" fill="#3e3e3e"/>
<rect x="1655.5" y="482.4" width="183.9" height="2.7" fill="#4a4a4a"/>
<rect x="1652.8" y="485.1" width="2.7" height="34.8" fill="#121612"/>
<rect x="1882.3" y="500.8" width="135.6" height="19.1" fill="#3e3e3e"/>
<rect x="1884.6" y="500.8" width="131.0" height="2.7" fill="#4a4a4a"/>
<rect x="2057.9" y="482.4" width="170.5" height="37.5" fill="#3e3e3e"/>
<rect x="2060.2" y="482.4" width="165.9" height="2.7" fill="#4a4a4a"/>
<rect x="1147.9" y="485.1" width="138.4" height="34.8" fill="#002d2d"/>
<rect x="1150.2" y="485.1" width="133.8" height="2.5" fill="#004c4c"/>
<rect x="1150.2" y="487.6" width="133.8" height="30.0" fill="#009999"/>
<rect x="1152.0" y="487.6" width="130.2" height="30.0" fill="#00dbdb"/>
<rect x="1154.0" y="489.6" width="126.2" height="25.5" fill="#00ffff"/>
<rect x="1288.7" y="497.5" width="36.7" height="22.4" fill="#2d2200"/>
<rect x="1288.7" y="497.5" width="34.4" height="2.5" fill="#4c3900"/>
<rect x="1288.7" y="500.0" width="34.4" height="17.6" fill="#997300"/>
<rect x="1290.5" y="500.0" width="30.8" height="17.6" fill="#dba500"/>
<rect x="1292.5" y="502.0" width="26.8" height="13.1" fill="#ffc000"/>
<rect x="1327.8" y="485.1" width="325.3" height="34.8" fill="#2d0000"/>
<rect x="1327.8" y="485.1" width="323.0" height="2.5" fill="#4c0000"/>
<rect x="1327.8" y="487.6" width="323.0" height="30.0" fill="#990000"/>
<rect x="1329.6" y="487.6" width="319.4" height="30.0" fill="#db0000"/>
<rect x="1331.6" y="489.6" width="315.4" height="25.5" fill="#ff0000"/>
<rect x="1655.5" y="485.1" width="183.9" height="34.8" fill="#172d00"/>
<rect x="1655.5" y="485.1" width="181.6" height="2.5" fill="#264c00"/>
<rect x="1655.5" y="487.6" width="181.6" height="30.0" fill="#4c9900"/>
<rect x="1657.3" y="487.6" width="178.0" height="30.0" fill="#6edb00"/>
<rect x="1659.3" y="489.6" width="174.0" height="25.5" fill="#80ff00"/>
<rect x="1884.6" y="503.5" width="131.0" height="16.4" fill="#212a2d"/>
<rect x="1886.9" y="503.5" width="126.4" height="2.5" fill="#37464c"/>
<rect x="1886.9" y="506.0" width="126.4" height="11.6" fill="#6e8d99"/>
<rect x="1888.7" y="506.0" width="122.8" height="11.6" fill="#9ecadb"/>
<rect x="1890.7" y="508.0" width="118.8" height="7.1" fill="#b8ecff"/>
<rect x="2060.2" y="485.1" width="165.9" height="34.8" fill="#2d1100"/>
<rect x="2062.5" y="485.1" width="161.3" height="2.5" fill="#4c1c00"/>
<rect x="2062.5" y="487.6" width="161.3" height="30.0" fill="#993900"/>
<rect x="2064.3" y="487.6" width="157.7" height="30.0" fill="#db5200"/>
<rect x="2066.3" y="489.6" width="153.7" height="25.5" fill="#ff6000"/>
<line x1="1111.0" y1="518.7" x2="2228" y2="518.7" stroke="#4c4c4c" stroke-width="3.2"/>
<line x1="1110.2" y1="592.4" x2="2190" y2="592.4" stroke="#bebebe" stroke-width="7.8"/>
<rect x="1145.6" y="552.9" width="143.0" height="40.5" fill="#e9e9e9"/>
<rect x="1142.9" y="555.9" width="148.4" height="34.5" fill="#c6c6c8"/>
<rect x="1286.4" y="566.2" width="41.3" height="27.1" fill="#e9e9e9"/>
<rect x="1283.7" y="569.2" width="46.7" height="21.1" fill="#c6c6c8"/>
<rect x="1325.5" y="552.9" width="329.9" height="40.5" fill="#e9e9e9"/>
<rect x="1322.8" y="555.9" width="335.3" height="34.5" fill="#c6c6c8"/>
<rect x="1653.2" y="552.9" width="188.5" height="40.5" fill="#e9e9e9"/>
<rect x="1650.5" y="555.9" width="193.9" height="34.5" fill="#c6c6c8"/>
<rect x="1874.1" y="557.5" width="78.2" height="35.8" fill="#e9e9e9"/>
<rect x="1871.4" y="560.5" width="83.6" height="29.8" fill="#c6c6c8"/>
<rect x="2018.5" y="552.9" width="170.1" height="40.5" fill="#e9e9e9"/>
<rect x="2015.8" y="555.9" width="175.5" height="34.5" fill="#c6c6c8"/>
<rect x="1145.6" y="555.9" width="143.0" height="37.5" fill="#3e3e3e"/>
<rect x="1147.9" y="555.9" width="138.4" height="2.7" fill="#4a4a4a"/>
<rect x="1286.4" y="569.2" width="41.3" height="24.1" fill="#3e3e3e"/>
<rect x="1288.7" y="569.2" width="36.7" height="2.7" fill="#4a4a4a"/>
<rect x="1286.0" y="572.0" width="2.7" height="21.4" fill="#121612"/>
<rect x="1325.5" y="555.9" width="329.9" height="37.5" fill="#3e3e3e"/>
<rect x="1327.8" y="555.9" width="325.3" height="2.7" fill="#4a4a4a"/>
<rect x="1325.1" y="558.6" width="2.7" height="34.8" fill="#121612"/>
<rect x="1653.2" y="555.9" width="188.5" height="37.5" fill="#3e3e3e"/>
<rect x="1655.5" y="555.9" width="183.9" height="2.7" fill="#4a4a4a"/>
<rect x="1652.8" y="558.6" width="2.7" height="34.8" fill="#121612"/>
<rect x="1874.1" y="560.5" width="78.2" height="32.8" fill="#3e3e3e"/>
<rect x="1876.4" y="560.5" width="73.6" height="2.7" fill="#4a4a4a"/>
<rect x="2018.5" y="555.9" width="170.1" height="37.5" fill="#3e3e3e"/>
<rect x="2020.8" y="555.9" width="165.5" height="2.7" fill="#4a4a4a"/>
<rect x="1147.9" y="558.6" width="138.4" height="34.8" fill="#002d2d"/>
<rect x="1150.2" y="558.6" width="133.8" height="2.5" fill="#004c4c"/>
<rect x="1150.2" y="561.1" width="133.8" height="30.0" fill="#009999"/>
<rect x="1152.0" y="561.1" width="130.2" height="30.0" fill="#00dbdb"/>
<rect x="1154.0" y="563.1" width="126.2" height="25.5" fill="#00ffff"/>
<rect x="1288.7" y="572.0" width="36.7" height="21.4" fill="#2d2200"/>
<rect x="1288.7" y="572.0" width="34.4" height="2.5" fill="#4c3900"/>
<rect x="1288.7" y="574.5" width="34.4" height="16.6" fill="#997300"/>
<rect x="1290.5" y="574.5" width="30.8" height="16.6" fill="#dba500"/>
<rect x="1292.5" y="576.5" width="26.8" height="12.1" fill="#ffc000"/>
<rect x="1327.8" y="558.6" width="325.3" height="34.8" fill="#2d0000"/>
<rect x="1327.8" y="558.6" width="323.0" height="2.5" fill="#4c0000"/>
<rect x="1327.8" y="561.1" width="323.0" height="30.0" fill="#990000"/>
<rect x="1329.6" y="561.1" width="319.4" height="30.0" fill="#db0000"/>
<rect x="1331.6" y="563.1" width="315.4" height="25.5" fill="#ff0000"/>
<rect x="1655.5" y="558.6" width="183.9" height="34.8" fill="#172d00"/>
<rect x="1655.5" y="558.6" width="181.6" height="2.5" fill="#264c00"/>
<rect x="1655.5" y="561.1" width="181.6" height="30.0" fill="#4c9900"/>
<rect x="1657.3" y="561.1" width="178.0" height="30.0" fill="#6edb00"/>
<rect x="1659.3" y="563.1" width="174.0" height="25.5" fill="#80ff00"/>
<rect x="1876.4" y="563.2" width="73.6" height="30.1" fill="#000b2d"/>
<rect x="1878.7" y="563.2" width="69.0" height="2.5" fill="#00134c"/>
<rect x="1878.7" y="565.8" width="69.0" height="25.3" fill="#002699"/>
<rect x="1880.5" y="565.8" width="65.4" height="25.3" fill="#0037db"/>
<rect x="1882.5" y="567.8" width="61.4" height="20.8" fill="#0040ff"/>
<rect x="2020.8" y="558.6" width="165.5" height="34.8" fill="#2d1100"/>
<rect x="2023.1" y="558.6" width="160.9" height="2.5" fill="#4c1c00"/>
<rect x="2023.1" y="561.1" width="160.9" height="30.0" fill="#993900"/>
<rect x="2024.9" y="561.1" width="157.3" height="30.0" fill="#db5200"/>
<rect x="2026.9" y="563.1" width="153.3" height="25.5" fill="#ff6000"/>
<line x1="1111.0" y1="592.1" x2="2188" y2="592.1" stroke="#4c4c4c" stroke-width="3.2"/>
<line x1="1110.2" y1="665.8" x2="2351.4" y2="665.8" stroke="#bebebe" stroke-width="7.8"/>
<rect x="1185.8" y="626.3" width="141.9" height="40.5" fill="#e9e9e9"/>
<rect x="1183.1" y="629.3" width="147.3" height="34.5" fill="#c6c6c8"/>
<rect x="1325.5" y="641.7" width="41.3" height="25.1" fill="#e9e9e9"/>
<rect x="1322.8" y="644.7" width="46.7" height="19.1" fill="#c6c6c8"/>
<rect x="1364.6" y="626.3" width="330.0" height="40.5" fill="#e9e9e9"/>
<rect x="1361.9" y="629.3" width="335.4" height="34.5" fill="#c6c6c8"/>
<rect x="1692.4" y="626.3" width="188.4" height="40.5" fill="#e9e9e9"/>
<rect x="1689.7" y="629.3" width="193.8" height="34.5" fill="#c6c6c8"/>
<rect x="1972.4" y="626.3" width="78.4" height="40.5" fill="#e9e9e9"/>
<rect x="1969.7" y="629.3" width="83.8" height="34.5" fill="#c6c6c8"/>
<rect x="1185.8" y="629.3" width="141.9" height="37.5" fill="#3e3e3e"/>
<rect x="1188.1" y="629.3" width="137.3" height="2.7" fill="#4a4a4a"/>
<rect x="1325.5" y="644.7" width="41.3" height="22.1" fill="#3e3e3e"/>
<rect x="1327.8" y="644.7" width="36.7" height="2.7" fill="#4a4a4a"/>
<rect x="1325.1" y="647.4" width="2.7" height="19.4" fill="#121612"/>
<rect x="1364.6" y="629.3" width="330.0" height="37.5" fill="#3e3e3e"/>
<rect x="1366.9" y="629.3" width="325.4" height="2.7" fill="#4a4a4a"/>
<rect x="1364.2" y="632.0" width="2.7" height="34.8" fill="#121612"/>
<rect x="1692.4" y="629.3" width="188.4" height="37.5" fill="#3e3e3e"/>
<rect x="1694.7" y="629.3" width="183.8" height="2.7" fill="#4a4a4a"/>
<rect x="1692.0" y="632.0" width="2.7" height="34.8" fill="#121612"/>
<rect x="1972.4" y="629.3" width="78.4" height="37.5" fill="#3e3e3e"/>
<rect x="1974.7" y="629.3" width="73.8" height="2.7" fill="#4a4a4a"/>
<rect x="1188.1" y="632.0" width="137.3" height="34.8" fill="#002d2d"/>
<rect x="1190.4" y="632.0" width="132.7" height="2.5" fill="#004c4c"/>
<rect x="1190.4" y="634.5" width="132.7" height="30.0" fill="#009999"/>
<rect x="1192.2" y="634.5" width="129.1" height="30.0" fill="#00dbdb"/>
<rect x="1194.2" y="636.5" width="125.1" height="25.5" fill="#00ffff"/>
<rect x="1327.8" y="647.4" width="36.7" height="19.4" fill="#2d2200"/>
<rect x="1327.8" y="647.4" width="34.4" height="2.5" fill="#4c3900"/>
<rect x="1327.8" y="649.9" width="34.4" height="14.6" fill="#997300"/>
<rect x="1329.6" y="649.9" width="30.8" height="14.6" fill="#dba500"/>
<rect x="1331.6" y="651.9" width="26.8" height="10.1" fill="#ffc000"/>
<rect x="1366.9" y="632.0" width="325.4" height="34.8" fill="#2d0000"/>
<rect x="1366.9" y="632.0" width="323.1" height="2.5" fill="#4c0000"/>
<rect x="1366.9" y="634.5" width="323.1" height="30.0" fill="#990000"/>
<rect x="1368.7" y="634.5" width="319.5" height="30.0" fill="#db0000"/>
<rect x="1370.7" y="636.5" width="315.5" height="25.5" fill="#ff0000"/>
<rect x="1694.7" y="632.0" width="183.8" height="34.8" fill="#172d00"/>
<rect x="1694.7" y="632.0" width="181.5" height="2.5" fill="#264c00"/>
<rect x="1694.7" y="634.5" width="181.5" height="30.0" fill="#4c9900"/>
<rect x="1696.5" y="634.5" width="177.9" height="30.0" fill="#6edb00"/>
<rect x="1698.5" y="636.5" width="173.9" height="25.5" fill="#80ff00"/>
<rect x="1974.7" y="632.0" width="73.8" height="34.8" fill="#28002d"/>
<rect x="1977.0" y="632.0" width="69.2" height="2.5" fill="#43004c"/>
<rect x="1977.0" y="634.5" width="69.2" height="30.0" fill="#860099"/>
<rect x="1978.8" y="634.5" width="65.6" height="30.0" fill="#c000db"/>
<rect x="1980.8" y="636.5" width="61.6" height="25.5" fill="#e000ff"/>
<line x1="1111.0" y1="665.6" x2="2349.4" y2="665.6" stroke="#4c4c4c" stroke-width="3.2"/>
<line x1="1110.2" y1="739.3" x2="2594.6" y2="739.3" stroke="#bebebe" stroke-width="7.8"/>
<rect x="1298.3" y="699.8" width="142.2" height="40.5" fill="#e9e9e9"/>
<rect x="1295.6" y="702.8" width="147.6" height="34.5" fill="#c6c6c8"/>
<rect x="1438.3" y="711.2" width="40.2" height="29.1" fill="#e9e9e9"/>
<rect x="1435.6" y="714.2" width="45.6" height="23.1" fill="#c6c6c8"/>
<rect x="1476.3" y="699.8" width="330.7" height="40.5" fill="#e9e9e9"/>
<rect x="1473.6" y="702.8" width="336.1" height="34.5" fill="#c6c6c8"/>
<rect x="1804.8" y="699.8" width="187.0" height="40.5" fill="#e9e9e9"/>
<rect x="1802.1" y="702.8" width="192.4" height="34.5" fill="#c6c6c8"/>
<rect x="2503.7" y="699.8" width="80.4" height="40.5" fill="#e9e9e9"/>
<rect x="2501.0" y="702.8" width="85.8" height="34.5" fill="#c6c6c8"/>
<rect x="1298.3" y="702.8" width="142.2" height="37.5" fill="#3e3e3e"/>
<rect x="1300.6" y="702.8" width="137.6" height="2.7" fill="#4a4a4a"/>
<rect x="1438.3" y="714.2" width="40.2" height="26.1" fill="#3e3e3e"/>
<rect x="1440.6" y="714.2" width="35.6" height="2.7" fill="#4a4a4a"/>
<rect x="1437.9" y="716.9" width="2.7" height="23.4" fill="#121612"/>
<rect x="1476.3" y="702.8" width="330.7" height="37.5" fill="#3e3e3e"/>
<rect x="1478.6" y="702.8" width="326.1" height="2.7" fill="#4a4a4a"/>
<rect x="1475.9" y="705.5" width="2.7" height="34.8" fill="#121612"/>
<rect x="1804.8" y="702.8" width="187.0" height="37.5" fill="#3e3e3e"/>
<rect x="1807.1" y="702.8" width="182.4" height="2.7" fill="#4a4a4a"/>
<rect x="1804.4" y="705.5" width="2.7" height="34.8" fill="#121612"/>
<rect x="2503.7" y="702.8" width="80.4" height="37.5" fill="#3e3e3e"/>
<rect x="2506.0" y="702.8" width="75.8" height="2.7" fill="#4a4a4a"/>
<rect x="1300.6" y="705.5" width="137.6" height="34.8" fill="#002d2d"/>
<rect x="1302.9" y="705.5" width="133.0" height="2.5" fill="#004c4c"/>
<rect x="1302.9" y="708.0" width="133.0" height="30.0" fill="#009999"/>
<rect x="1304.7" y="708.0" width="129.4" height="30.0" fill="#00dbdb"/>
<rect x="1306.7" y="710.0" width="125.4" height="25.5" fill="#00ffff"/>
<rect x="1440.6" y="716.9" width="35.6" height="23.4" fill="#2d2200"/>
<rect x="1440.6" y="716.9" width="33.3" height="2.5" fill="#4c3900"/>
<rect x="1440.6" y="719.4" width="33.3" height="18.6" fill="#997300"/>
<rect x="1442.4" y="719.4" width="29.7" height="18.6" fill="#dba500"/>
<rect x="1444.4" y="721.4" width="25.7" height="14.1" fill="#ffc000"/>
<rect x="1478.6" y="705.5" width="326.1" height="34.8" fill="#2d0000"/>
<rect x="1478.6" y="705.5" width="323.8" height="2.5" fill="#4c0000"/>
<rect x="1478.6" y="708.0" width="323.8" height="30.0" fill="#990000"/>
<rect x="1480.4" y="708.0" width="320.2" height="30.0" fill="#db0000"/>
<rect x="1482.4" y="710.0" width="316.2" height="25.5" fill="#ff0000"/>
<rect x="1807.1" y="705.5" width="182.4" height="34.8" fill="#172d00"/>
<rect x="1807.1" y="705.5" width="180.1" height="2.5" fill="#264c00"/>
<rect x="1807.1" y="708.0" width="180.1" height="30.0" fill="#4c9900"/>
<rect x="1808.9" y="708.0" width="176.5" height="30.0" fill="#6edb00"/>
<rect x="1810.9" y="710.0" width="172.5" height="25.5" fill="#80ff00"/>
<rect x="2506.0" y="705.5" width="75.8" height="34.8" fill="#2d0011"/>
<rect x="2508.3" y="705.5" width="71.2" height="2.5" fill="#4c001c"/>
<rect x="2508.3" y="708.0" width="71.2" height="30.0" fill="#990039"/>
<rect x="2510.1" y="708.0" width="67.6" height="30.0" fill="#db0052"/>
<rect x="2512.1" y="710.0" width="63.6" height="25.5" fill="#ff0060"/>
<line x1="1111.0" y1="739.1" x2="2592.6" y2="739.1" stroke="#4c4c4c" stroke-width="3.2"/>
<line x1="1110.2" y1="812.7" x2="2430.7" y2="812.7" stroke="#bebebe" stroke-width="7.8"/>
<rect x="1298.3" y="773.2" width="142.2" height="40.5" fill="#e9e9e9"/>
<rect x="1295.6" y="776.2" width="147.6" height="34.5" fill="#c6c6c8"/>
<rect x="1438.3" y="791.6" width="40.2" height="22.1" fill="#e9e9e9"/>
<rect x="1435.6" y="794.6" width="45.6" height="16.1" fill="#c6c6c8"/>
<rect x="1476.3" y="773.2" width="330.7" height="40.5" fill="#e9e9e9"/>
<rect x="1473.6" y="776.2" width="336.1" height="34.5" fill="#c6c6c8"/>
<rect x="1804.8" y="773.2" width="187.0" height="40.5" fill="#e9e9e9"/>
<rect x="1802.1" y="776.2" width="192.4" height="34.5" fill="#c6c6c8"/>
<rect x="1298.3" y="776.2" width="142.2" height="37.5" fill="#3e3e3e"/>
<rect x="1300.6" y="776.2" width="137.6" height="2.7" fill="#4a4a4a"/>
<rect x="1438.3" y="794.6" width="40.2" height="19.1" fill="#3e3e3e"/>
<rect x="1440.6" y="794.6" width="35.6" height="2.7" fill="#4a4a4a"/>
<rect x="1437.9" y="797.3" width="2.7" height="16.4" fill="#121612"/>
<rect x="1476.3" y="776.2" width="330.7" height="37.5" fill="#3e3e3e"/>
<rect x="1478.6" y="776.2" width="326.1" height="2.7" fill="#4a4a4a"/>
<rect x="1475.9" y="778.9" width="2.7" height="34.8" fill="#121612"/>
<rect x="1804.8" y="776.2" width="187.0" height="37.5" fill="#3e3e3e"/>
<rect x="1807.1" y="776.2" width="182.4" height="2.7" fill="#4a4a4a"/>
<rect x="1804.4" y="778.9" width="2.7" height="34.8" fill="#121612"/>
<rect x="1300.6" y="778.9" width="137.6" height="34.8" fill="#002d2d"/>
<rect x="1302.9" y="778.9" width="133.0" height="2.5" fill="#004c4c"/>
<rect x="1302.9" y="781.4" width="133.0" height="30.0" fill="#009999"/>
<rect x="1304.7" y="781.4" width="129.4" height="30.0" fill="#00dbdb"/>
<rect x="1306.7" y="783.4" width="125.4" height="25.5" fill="#00ffff"/>
<rect x="1440.6" y="797.3" width="35.6" height="16.4" fill="#2d2200"/>
<rect x="1440.6" y="797.3" width="33.3" height="2.5" fill="#4c3900"/>
<rect x="1440.6" y="799.8" width="33.3" height="11.6" fill="#997300"/>
<rect x="1442.4" y="799.8" width="29.7" height="11.6" fill="#dba500"/>
<rect x="1444.4" y="801.8" width="25.7" height="7.1" fill="#ffc000"/>
<rect x="1478.6" y="778.9" width="326.1" height="34.8" fill="#2d0000"/>
<rect x="1478.6" y="778.9" width="323.8" height="2.5" fill="#4c0000"/>
<rect x="1478.6" y="781.4" width="323.8" height="30.0" fill="#990000"/>
<rect x="1480.4" y="781.4" width="320.2" height="30.0" fill="#db0000"/>
<rect x="1482.4" y="783.4" width="316.2" height="25.5" fill="#ff0000"/>
<rect x="1807.1" y="778.9" width="182.4" height="34.8" fill="#172d00"/>
<rect x="1807.1" y="778.9" width="180.1" height="2.5" fill="#264c00"/>
<rect x="1807.1" y="781.4" width="180.1" height="30.0" fill="#4c9900"/>
<rect x="1808.9" y="781.4" width="176.5" height="30.0" fill="#6edb00"/>
<rect x="1810.9" y="783.4" width="172.5" height="25.5" fill="#80ff00"/>
<line x1="1111.0" y1="812.5" x2="2428.7" y2="812.5" stroke="#4c4c4c" stroke-width="3.2"/>
<line x1="1110.2" y1="886.2" x2="2949.2" y2="886.2" stroke="#bebebe" stroke-width="7.8"/>
<rect x="1159.8" y="846.7" width="142.9" height="40.5" fill="#e9e9e9"/>
<rect x="1157.1" y="849.7" width="148.3" height="34.5" fill="#c6c6c8"/>
<rect x="1305.8" y="862.6" width="41.6" height="24.6" fill="#e9e9e9"/>
<rect x="1303.1" y="865.6" width="47.0" height="18.6" fill="#c6c6c8"/>
<rect x="1345.2" y="846.7" width="328.9" height="40.5" fill="#e9e9e9"/>
<rect x="1342.5" y="849.7" width="334.3" height="34.5" fill="#c6c6c8"/>
<rect x="1671.9" y="846.7" width="189.5" height="40.5" fill="#e9e9e9"/>
<rect x="1669.2" y="849.7" width="194.9" height="34.5" fill="#c6c6c8"/>
<rect x="2143.6" y="846.7" width="79.3" height="40.5" fill="#e9e9e9"/>
<rect x="2140.9" y="849.7" width="84.7" height="34.5" fill="#c6c6c8"/>
<rect x="1159.8" y="849.7" width="142.9" height="37.5" fill="#3e3e3e"/>
<rect x="1162.1" y="849.7" width="138.3" height="2.7" fill="#4a4a4a"/>
<rect x="1305.8" y="865.6" width="41.6" height="21.6" fill="#3e3e3e"/>
<rect x="1308.1" y="865.6" width="37.0" height="2.7" fill="#4a4a4a"/>
<rect x="1345.2" y="849.7" width="328.9" height="37.5" fill="#3e3e3e"/>
<rect x="1347.5" y="849.7" width="324.3" height="2.7" fill="#4a4a4a"/>
<rect x="1344.8" y="852.4" width="2.7" height="34.8" fill="#121612"/>
<rect x="1671.9" y="849.7" width="189.5" height="37.5" fill="#3e3e3e"/>
<rect x="1674.2" y="849.7" width="184.9" height="2.7" fill="#4a4a4a"/>
<rect x="1671.5" y="852.4" width="2.7" height="34.8" fill="#121612"/>
<rect x="2143.6" y="849.7" width="79.3" height="37.5" fill="#3e3e3e"/>
<rect x="2145.9" y="849.7" width="74.7" height="2.7" fill="#4a4a4a"/>
<rect x="1162.1" y="852.4" width="138.3" height="34.8" fill="#002d2d"/>
<rect x="1164.4" y="852.4" width="133.7" height="2.5" fill="#004c4c"/>
<rect x="1164.4" y="854.9" width="133.7" height="30.0" fill="#009999"/>
<rect x="1166.2" y="854.9" width="130.1" height="30.0" fill="#00dbdb"/>
<rect x="1168.2" y="856.9" width="126.1" height="25.5" fill="#00ffff"/>
<rect x="1308.1" y="868.3" width="37.0" height="18.9" fill="#2d2200"/>
<rect x="1310.4" y="868.3" width="32.4" height="2.5" fill="#4c3900"/>
<rect x="1310.4" y="870.8" width="32.4" height="14.1" fill="#997300"/>
<rect x="1312.2" y="870.8" width="28.8" height="14.1" fill="#dba500"/>
<rect x="1314.2" y="872.8" width="24.8" height="9.6" fill="#ffc000"/>
<rect x="1347.5" y="852.4" width="324.3" height="34.8" fill="#2d0000"/>
<rect x="1347.5" y="852.4" width="322.0" height="2.5" fill="#4c0000"/>
<rect x="1347.5" y="854.9" width="322.0" height="30.0" fill="#990000"/>
<rect x="1349.3" y="854.9" width="318.4" height="30.0" fill="#db0000"/>
<rect x="1351.3" y="856.9" width="314.4" height="25.5" fill="#ff0000"/>
<rect x="1674.2" y="852.4" width="184.9" height="34.8" fill="#172d00"/>
<rect x="1674.2" y="852.4" width="182.6" height="2.5" fill="#264c00"/>
<rect x="1674.2" y="854.9" width="182.6" height="30.0" fill="#4c9900"/>
<rect x="1676.0" y="854.9" width="179.0" height="30.0" fill="#6edb00"/>
<rect x="1678.0" y="856.9" width="175.0" height="25.5" fill="#80ff00"/>
<rect x="2145.9" y="852.4" width="74.7" height="34.8" fill="#000b2d"/>
<rect x="2148.2" y="852.4" width="70.1" height="2.5" fill="#00134c"/>
<rect x="2148.2" y="854.9" width="70.1" height="30.0" fill="#002699"/>
<rect x="2150.0" y="854.9" width="66.5" height="30.0" fill="#0037db"/>
<rect x="2152.0" y="856.9" width="62.5" height="25.5" fill="#0040ff"/>
<line x1="1111.0" y1="886.0" x2="2947.2" y2="886.0" stroke="#4c4c4c" stroke-width="3.2"/>
<line x1="1110.2" y1="959.6" x2="2502.2" y2="959.6" stroke="#bebebe" stroke-width="7.8"/>
<rect x="1323.6" y="920.1" width="143.0" height="40.5" fill="#e9e9e9"/>
<rect x="1320.9" y="923.1" width="148.4" height="34.5" fill="#c6c6c8"/>
<rect x="1464.4" y="928.5" width="41.0" height="32.1" fill="#e9e9e9"/>
<rect x="1461.7" y="931.5" width="46.4" height="26.1" fill="#c6c6c8"/>
<rect x="1503.2" y="920.1" width="329.2" height="40.5" fill="#e9e9e9"/>
<rect x="1500.5" y="923.1" width="334.6" height="34.5" fill="#c6c6c8"/>
<rect x="1830.2" y="920.1" width="188.6" height="40.5" fill="#e9e9e9"/>
<rect x="1827.5" y="923.1" width="194.0" height="34.5" fill="#c6c6c8"/>
<rect x="2038.2" y="920.1" width="59.1" height="40.5" fill="#e9e9e9"/>
<rect x="2035.5" y="923.1" width="64.5" height="34.5" fill="#c6c6c8"/>
<rect x="2128.7" y="920.1" width="80.4" height="40.5" fill="#e9e9e9"/>
<rect x="2126.0" y="923.1" width="85.8" height="34.5" fill="#c6c6c8"/>
<rect x="2247.8" y="920.1" width="78.6" height="40.5" fill="#e9e9e9"/>
<rect x="2245.1" y="923.1" width="84.0" height="34.5" fill="#c6c6c8"/>
<rect x="1323.6" y="923.1" width="143.0" height="37.5" fill="#3e3e3e"/>
<rect x="1325.9" y="923.1" width="138.4" height="2.7" fill="#4a4a4a"/>
<rect x="1464.4" y="931.5" width="41.0" height="29.1" fill="#3e3e3e"/>
<rect x="1466.7" y="931.5" width="36.4" height="2.7" fill="#4a4a4a"/>
<rect x="1464.0" y="934.2" width="2.7" height="26.4" fill="#121612"/>
<rect x="1503.2" y="923.1" width="329.2" height="37.5" fill="#3e3e3e"/>
<rect x="1505.5" y="923.1" width="324.6" height="2.7" fill="#4a4a4a"/>
<rect x="1502.8" y="925.8" width="2.7" height="34.8" fill="#121612"/>
<rect x="1830.2" y="923.1" width="188.6" height="37.5" fill="#3e3e3e"/>
<rect x="1832.5" y="923.1" width="184.0" height="2.7" fill="#4a4a4a"/>
<rect x="1829.8" y="925.8" width="2.7" height="34.8" fill="#121612"/>
<rect x="2038.2" y="923.1" width="59.1" height="37.5" fill="#3e3e3e"/>
<rect x="2040.5" y="923.1" width="54.5" height="2.7" fill="#4a4a4a"/>
<rect x="2128.7" y="923.1" width="80.4" height="37.5" fill="#3e3e3e"/>
<rect x="2131.0" y="923.1" width="75.8" height="2.7" fill="#4a4a4a"/>
<rect x="2247.8" y="923.1" width="78.6" height="37.5" fill="#3e3e3e"/>
<rect x="2250.1" y="923.1" width="74.0" height="2.7" fill="#4a4a4a"/>
<rect x="1325.9" y="925.8" width="138.4" height="34.8" fill="#002d2d"/>
<rect x="1328.2" y="925.8" width="133.8" height="2.5" fill="#004c4c"/>
<rect x="1328.2" y="928.3" width="133.8" height="30.0" fill="#009999"/>
<rect x="1330.0" y="928.3" width="130.2" height="30.0" fill="#00dbdb"/>
<rect x="1332.0" y="930.3" width="126.2" height="25.5" fill="#00ffff"/>
<rect x="1466.7" y="934.2" width="36.4" height="26.4" fill="#2d2200"/>
<rect x="1466.7" y="934.2" width="34.1" height="2.5" fill="#4c3900"/>
<rect x="1466.7" y="936.7" width="34.1" height="21.6" fill="#997300"/>
<rect x="1468.5" y="936.7" width="30.5" height="21.6" fill="#dba500"/>
<rect x="1470.5" y="938.7" width="26.5" height="17.1" fill="#ffc000"/>
<rect x="1505.5" y="925.8" width="324.6" height="34.8" fill="#2d0000"/>
<rect x="1505.5" y="925.8" width="322.3" height="2.5" fill="#4c0000"/>
<rect x="1505.5" y="928.3" width="322.3" height="30.0" fill="#990000"/>
<rect x="1507.3" y="928.3" width="318.7" height="30.0" fill="#db0000"/>
<rect x="1509.3" y="930.3" width="314.7" height="25.5" fill="#ff0000"/>
<rect x="1832.5" y="925.8" width="184.0" height="34.8" fill="#172d00"/>
<rect x="1832.5" y="925.8" width="181.7" height="2.5" fill="#264c00"/>
<rect x="1832.5" y="928.3" width="181.7" height="30.0" fill="#4c9900"/>
<rect x="1834.3" y="928.3" width="178.1" height="30.0" fill="#6edb00"/>
<rect x="1836.3" y="930.3" width="174.1" height="25.5" fill="#80ff00"/>
<rect x="2040.5" y="925.8" width="54.5" height="34.8" fill="#002d1c"/>
<rect x="2042.8" y="925.8" width="49.9" height="2.5" fill="#004c30"/>
<rect x="2042.8" y="928.3" width="49.9" height="30.0" fill="#009960"/>
<rect x="2044.6" y="928.3" width="46.3" height="30.0" fill="#00db89"/>
<rect x="2046.6" y="930.3" width="42.3" height="25.5" fill="#00ffa0"/>
<rect x="2131.0" y="925.8" width="75.8" height="34.8" fill="#000b2d"/>
<rect x="2133.3" y="925.8" width="71.2" height="2.5" fill="#00134c"/>
<rect x="2133.3" y="928.3" width="71.2" height="30.0" fill="#002699"/>
<rect x="2135.1" y="928.3" width="67.6" height="30.0" fill="#0037db"/>
<rect x="2137.1" y="930.3" width="63.6" height="25.5" fill="#0040ff"/>
<rect x="2250.1" y="925.8" width="74.0" height="34.8" fill="#2d0011"/>
<rect x="2252.4" y="925.8" width="69.4" height="2.5" fill="#4c001c"/>
<rect x="2252.4" y="928.3" width="69.4" height="30.0" fill="#990039"/>
<rect x="2254.2" y="928.3" width="65.8" height="30.0" fill="#db0052"/>
<rect x="2256.2" y="930.3" width="61.8" height="25.5" fill="#ff0060"/>
<line x1="1111.0" y1="959.4" x2="2500.2" y2="959.4" stroke="#4c4c4c" stroke-width="3.2"/>
<line x1="1110.2" y1="1033.0" x2="2258.3" y2="1033.0" stroke="#bebebe" stroke-width="7.8"/>
<rect x="1264.8" y="993.5" width="143.0" height="40.5" fill="#e9e9e9"/>
<rect x="1262.1" y="996.5" width="148.4" height="34.5" fill="#c6c6c8"/>
<rect x="1405.6" y="1004.9" width="40.2" height="29.1" fill="#e9e9e9"/>
<rect x="1402.9" y="1007.9" width="45.6" height="23.1" fill="#c6c6c8"/>
<rect x="1443.6" y="993.5" width="329.9" height="40.5" fill="#e9e9e9"/>
<rect x="1440.9" y="996.5" width="335.3" height="34.5" fill="#c6c6c8"/>
<rect x="1771.3" y="993.5" width="187.7" height="40.5" fill="#e9e9e9"/>
<rect x="1768.6" y="996.5" width="193.1" height="34.5" fill="#c6c6c8"/>
<rect x="1966.1" y="993.5" width="79.1" height="40.5" fill="#e9e9e9"/>
<rect x="1963.4" y="996.5" width="84.5" height="34.5" fill="#c6c6c8"/>
<rect x="2175.2" y="999.9" width="47.7" height="34.1" fill="#e9e9e9"/>
<rect x="2172.5" y="1002.9" width="53.1" height="28.1" fill="#c6c6c8"/>
<rect x="1264.8" y="996.5" width="143.0" height="37.5" fill="#3e3e3e"/>
<rect x="1267.1" y="996.5" width="138.4" height="2.7" fill="#4a4a4a"/>
<rect x="1405.6" y="1007.9" width="40.2" height="26.1" fill="#3e3e3e"/>
<rect x="1407.9" y="1007.9" width="35.6" height="2.7" fill="#4a4a4a"/>
<rect x="1405.2" y="1010.6" width="2.7" height="23.4" fill="#121612"/>
<rect x="1443.6" y="996.5" width="329.9" height="37.5" fill="#3e3e3e"/>
<rect x="1445.9" y="996.5" width="325.3" height="2.7" fill="#4a4a4a"/>
<rect x="1443.2" y="999.2" width="2.7" height="34.8" fill="#121612"/>
<rect x="1771.3" y="996.5" width="187.7" height="37.5" fill="#3e3e3e"/>
<rect x="1773.6" y="996.5" width="183.1" height="2.7" fill="#4a4a4a"/>
<rect x="1770.9" y="999.2" width="2.7" height="34.8" fill="#121612"/>
<rect x="1966.1" y="996.5" width="79.1" height="37.5" fill="#3e3e3e"/>
<rect x="1968.4" y="996.5" width="74.5" height="2.7" fill="#4a4a4a"/>
<rect x="2175.2" y="1002.9" width="47.7" height="31.1" fill="#3e3e3e"/>
<rect x="2177.5" y="1002.9" width="43.1" height="2.7" fill="#4a4a4a"/>
<rect x="1267.1" y="999.2" width="138.4" height="34.8" fill="#002d2d"/>
<rect x="1269.4" y="999.2" width="133.8" height="2.5" fill="#004c4c"/>
<rect x="1269.4" y="1001.8" width="133.8" height="30.0" fill="#009999"/>
<rect x="1271.2" y="1001.8" width="130.2" height="30.0" fill="#00dbdb"/>
<rect x="1273.2" y="1003.8" width="126.2" height="25.5" fill="#00ffff"/>
<rect x="1407.9" y="1010.6" width="35.6" height="23.4" fill="#2d2200"/>
<rect x="1407.9" y="1010.6" width="33.3" height="2.5" fill="#4c3900"/>
<rect x="1407.9" y="1013.1" width="33.3" height="18.6" fill="#997300"/>
<rect x="1409.7" y="1013.1" width="29.7" height="18.6" fill="#dba500"/>
<rect x="1411.7" y="1015.1" width="25.7" height="14.1" fill="#ffc000"/>
<rect x="1445.9" y="999.2" width="325.3" height="34.8" fill="#2d0000"/>
<rect x="1445.9" y="999.2" width="323.0" height="2.5" fill="#4c0000"/>
<rect x="1445.9" y="1001.8" width="323.0" height="30.0" fill="#990000"/>
<rect x="1447.7" y="1001.8" width="319.4" height="30.0" fill="#db0000"/>
<rect x="1449.7" y="1003.8" width="315.4" height="25.5" fill="#ff0000"/>
<rect x="1773.6" y="999.2" width="183.1" height="34.8" fill="#172d00"/>
<rect x="1773.6" y="999.2" width="180.8" height="2.5" fill="#264c00"/>
<rect x="1773.6" y="1001.8" width="180.8" height="30.0" fill="#4c9900"/>
<rect x="1775.4" y="1001.8" width="177.2" height="30.0" fill="#6edb00"/>
<rect x="1777.4" y="1003.8" width="173.2" height="25.5" fill="#80ff00"/>
<rect x="1968.4" y="999.2" width="74.5" height="34.8" fill="#000b2d"/>
<rect x="1970.7" y="999.2" width="69.9" height="2.5" fill="#00134c"/>
<rect x="1970.7" y="1001.8" width="69.9" height="30.0" fill="#002699"/>
<rect x="1972.5" y="1001.8" width="66.3" height="30.0" fill="#0037db"/>
<rect x="1974.5" y="1003.8" width="62.3" height="25.5" fill="#0040ff"/>
<rect x="2177.5" y="1005.6" width="43.1" height="28.4" fill="#2d1900"/>
<rect x="2179.8" y="1005.6" width="38.5" height="2.5" fill="#4c2b00"/>
<rect x="2179.8" y="1008.1" width="38.5" height="23.6" fill="#995600"/>
<rect x="2181.6" y="1008.1" width="34.9" height="23.6" fill="#db7b00"/>
<rect x="2183.6" y="1010.1" width="30.9" height="19.1" fill="#ff9000"/>
<line x1="1111.0" y1="1032.8" x2="2256.3" y2="1032.8" stroke="#4c4c4c" stroke-width="3.2"/>
<line x1="1110.2" y1="1106.5" x2="2081.4" y2="1106.5" stroke="#bebebe" stroke-width="7.8"/>
<rect x="1166.5" y="1067.0" width="142.6" height="40.5" fill="#e9e9e9"/>
<rect x="1163.8" y="1070.0" width="148.0" height="34.5" fill="#c6c6c8"/>
<rect x="1344.1" y="1067.0" width="330.0" height="40.5" fill="#e9e9e9"/>
<rect x="1341.4" y="1070.0" width="335.4" height="34.5" fill="#c6c6c8"/>
<rect x="1671.9" y="1067.0" width="189.5" height="40.5" fill="#e9e9e9"/>
<rect x="1669.2" y="1070.0" width="194.9" height="34.5" fill="#c6c6c8"/>
<rect x="1859.2" y="1074.4" width="81.2" height="33.1" fill="#e9e9e9"/>
<rect x="1856.5" y="1077.4" width="86.6" height="27.1" fill="#c6c6c8"/>
<rect x="1166.5" y="1070.0" width="142.6" height="37.5" fill="#3e3e3e"/>
<rect x="1168.8" y="1070.0" width="138.0" height="2.7" fill="#4a4a4a"/>
<rect x="1344.1" y="1070.0" width="330.0" height="37.5" fill="#3e3e3e"/>
<rect x="1346.4" y="1070.0" width="325.4" height="2.7" fill="#4a4a4a"/>
<rect x="1671.9" y="1070.0" width="189.5" height="37.5" fill="#3e3e3e"/>
<rect x="1674.2" y="1070.0" width="184.9" height="2.7" fill="#4a4a4a"/>
<rect x="1671.5" y="1072.7" width="2.7" height="34.8" fill="#121612"/>
<rect x="1859.2" y="1077.4" width="81.2" height="30.1" fill="#3e3e3e"/>
<rect x="1861.5" y="1077.4" width="76.6" height="2.7" fill="#4a4a4a"/>
<rect x="1858.8" y="1080.1" width="2.7" height="27.4" fill="#121612"/>
<rect x="1168.8" y="1072.7" width="138.0" height="34.8" fill="#002d2d"/>
<rect x="1171.1" y="1072.7" width="133.4" height="2.5" fill="#004c4c"/>
<rect x="1171.1" y="1075.2" width="133.4" height="30.0" fill="#009999"/>
<rect x="1172.9" y="1075.2" width="129.8" height="30.0" fill="#00dbdb"/>
<rect x="1174.9" y="1077.2" width="125.8" height="25.5" fill="#00ffff"/>
<rect x="1346.4" y="1072.7" width="325.4" height="34.8" fill="#2d0000"/>
<rect x="1348.7" y="1072.7" width="320.8" height="2.5" fill="#4c0000"/>
<rect x="1348.7" y="1075.2" width="320.8" height="30.0" fill="#990000"/>
<rect x="1350.5" y="1075.2" width="317.2" height="30.0" fill="#db0000"/>
<rect x="1352.5" y="1077.2" width="313.2" height="25.5" fill="#ff0000"/>
<rect x="1674.2" y="1072.7" width="184.9" height="34.8" fill="#172d00"/>
<rect x="1674.2" y="1072.7" width="182.6" height="2.5" fill="#264c00"/>
<rect x="1674.2" y="1075.2" width="182.6" height="30.0" fill="#4c9900"/>
<rect x="1676.0" y="1075.2" width="179.0" height="30.0" fill="#6edb00"/>
<rect x="1678.0" y="1077.2" width="175.0" height="25.5" fill="#80ff00"/>
<rect x="1861.5" y="1080.1" width="76.6" height="27.4" fill="#000b2d"/>
<rect x="1861.5" y="1080.1" width="74.3" height="2.5" fill="#00134c"/>
<rect x="1861.5" y="1082.6" width="74.3" height="22.6" fill="#002699"/>
<rect x="1863.3" y="1082.6" width="70.7" height="22.6" fill="#0037db"/>
<rect x="1865.3" y="1084.6" width="66.7" height="18.1" fill="#0040ff"/>
<line x1="1111.0" y1="1106.3" x2="2079.4" y2="1106.3" stroke="#4c4c4c" stroke-width="3.2"/>
<line x1="1110.2" y1="1180.0" x2="2928" y2="1180.0" stroke="#bebebe" stroke-width="7.8"/>
<rect x="1251.0" y="1140.5" width="143.7" height="40.5" fill="#e9e9e9"/>
<rect x="1248.3" y="1143.5" width="149.1" height="34.5" fill="#c6c6c8"/>
<rect x="1427.9" y="1140.5" width="333.7" height="40.5" fill="#e9e9e9"/>
<rect x="1425.2" y="1143.5" width="339.1" height="34.5" fill="#c6c6c8"/>
<rect x="1759.4" y="1140.5" width="186.5" height="40.5" fill="#e9e9e9"/>
<rect x="1756.7" y="1143.5" width="191.9" height="34.5" fill="#c6c6c8"/>
<rect x="2070.2" y="1142.8" width="53.2" height="38.1" fill="#e9e9e9"/>
<rect x="2067.5" y="1145.8" width="58.6" height="32.1" fill="#c6c6c8"/>
<rect x="2175.2" y="1146.8" width="47.7" height="34.1" fill="#e9e9e9"/>
<rect x="2172.5" y="1149.8" width="53.1" height="28.1" fill="#c6c6c8"/>
<rect x="2759.8" y="1140.8" width="149.8" height="40.1" fill="#e9e9e9"/>
<rect x="2757.1" y="1143.8" width="155.2" height="34.1" fill="#c6c6c8"/>
<rect x="1251.0" y="1143.5" width="143.7" height="37.5" fill="#3e3e3e"/>
<rect x="1253.3" y="1143.5" width="139.1" height="2.7" fill="#4a4a4a"/>
<rect x="1427.9" y="1143.5" width="333.7" height="37.5" fill="#3e3e3e"/>
<rect x="1430.2" y="1143.5" width="329.1" height="2.7" fill="#4a4a4a"/>
<rect x="1759.4" y="1143.5" width="186.5" height="37.5" fill="#3e3e3e"/>
<rect x="1761.7" y="1143.5" width="181.9" height="2.7" fill="#4a4a4a"/>
<rect x="1759.0" y="1146.2" width="2.7" height="34.8" fill="#121612"/>
<rect x="2070.2" y="1145.8" width="53.2" height="35.1" fill="#3e3e3e"/>
<rect x="2072.5" y="1145.8" width="48.6" height="2.7" fill="#4a4a4a"/>
<rect x="2175.2" y="1149.8" width="47.7" height="31.1" fill="#3e3e3e"/>
<rect x="2177.5" y="1149.8" width="43.1" height="2.7" fill="#4a4a4a"/>
<rect x="2759.8" y="1143.8" width="149.8" height="37.1" fill="#3e3e3e"/>
<rect x="2762.1" y="1143.8" width="145.2" height="2.7" fill="#4a4a4a"/>
<rect x="1253.3" y="1146.2" width="139.1" height="34.8" fill="#002d2d"/>
<rect x="1255.6" y="1146.2" width="134.5" height="2.5" fill="#004c4c"/>
<rect x="1255.6" y="1148.7" width="134.5" height="30.0" fill="#009999"/>
<rect x="1257.4" y="1148.7" width="130.9" height="30.0" fill="#00dbdb"/>
<rect x="1259.4" y="1150.7" width="126.9" height="25.5" fill="#00ffff"/>
<rect x="1430.2" y="1146.2" width="329.1" height="34.8" fill="#2d0000"/>
<rect x="1432.5" y="1146.2" width="324.5" height="2.5" fill="#4c0000"/>
<rect x="1432.5" y="1148.7" width="324.5" height="30.0" fill="#990000"/>
<rect x="1434.3" y="1148.7" width="320.9" height="30.0" fill="#db0000"/>
<rect x="1436.3" y="1150.7" width="316.9" height="25.5" fill="#ff0000"/>
<rect x="1761.7" y="1146.2" width="181.9" height="34.8" fill="#172d00"/>
<rect x="1761.7" y="1146.2" width="179.6" height="2.5" fill="#264c00"/>
<rect x="1761.7" y="1148.7" width="179.6" height="30.0" fill="#4c9900"/>
<rect x="1763.5" y="1148.7" width="176.0" height="30.0" fill="#6edb00"/>
<rect x="1765.5" y="1150.7" width="172.0" height="25.5" fill="#80ff00"/>
<rect x="2072.5" y="1148.5" width="48.6" height="32.4" fill="#282d00"/>
<rect x="2074.8" y="1148.5" width="44.0" height="2.5" fill="#434c00"/>
<rect x="2074.8" y="1151.0" width="44.0" height="27.6" fill="#869900"/>
<rect x="2076.6" y="1151.0" width="40.4" height="27.6" fill="#c0db00"/>
<rect x="2078.6" y="1153.0" width="36.4" height="23.1" fill="#e0ff00"/>
<rect x="2177.5" y="1152.5" width="43.1" height="28.4" fill="#2d1900"/>
<rect x="2179.8" y="1152.5" width="38.5" height="2.5" fill="#4c2b00"/>
<rect x="2179.8" y="1155.0" width="38.5" height="23.6" fill="#995600"/>
<rect x="2181.6" y="1155.0" width="34.9" height="23.6" fill="#db7b00"/>
<rect x="2183.6" y="1157.0" width="30.9" height="19.1" fill="#ff9000"/>
<rect x="2762.1" y="1146.5" width="145.2" height="34.4" fill="#052d00"/>
<rect x="2764.4" y="1146.5" width="140.6" height="2.5" fill="#094c00"/>
<rect x="2764.4" y="1149.0" width="140.6" height="29.6" fill="#139900"/>
<rect x="2766.2" y="1149.0" width="137.0" height="29.6" fill="#1bdb00"/>
<rect x="2768.2" y="1151.0" width="133.0" height="25.1" fill="#20ff00"/>
<line x1="1111.0" y1="1179.8" x2="2926" y2="1179.8" stroke="#4c4c4c" stroke-width="3.2"/>
<line x1="1110.2" y1="1253.4" x2="3126" y2="1253.4" stroke="#bebebe" stroke-width="7.8"/>
<rect x="1270.8" y="1213.9" width="143.7" height="40.5" fill="#e9e9e9"/>
<rect x="1268.1" y="1216.9" width="149.1" height="34.5" fill="#c6c6c8"/>
<rect x="1448.4" y="1213.9" width="332.6" height="40.5" fill="#e9e9e9"/>
<rect x="1445.7" y="1216.9" width="338.0" height="34.5" fill="#c6c6c8"/>
<rect x="1778.8" y="1213.9" width="186.9" height="40.5" fill="#e9e9e9"/>
<rect x="1776.1" y="1216.9" width="192.3" height="34.5" fill="#c6c6c8"/>
<rect x="2202.0" y="1215.6" width="79.7" height="38.8" fill="#e9e9e9"/>
<rect x="2199.3" y="1218.6" width="85.1" height="32.8" fill="#c6c6c8"/>
<rect x="2627.3" y="1213.9" width="138.9" height="40.5" fill="#e9e9e9"/>
<rect x="2624.6" y="1216.9" width="144.3" height="34.5" fill="#c6c6c8"/>
<rect x="2955.1" y="1213.9" width="152.9" height="40.5" fill="#e9e9e9"/>
<rect x="2952.4" y="1216.9" width="158.3" height="34.5" fill="#c6c6c8"/>
<rect x="1270.8" y="1216.9" width="143.7" height="37.5" fill="#3e3e3e"/>
<rect x="1273.1" y="1216.9" width="139.1" height="2.7" fill="#4a4a4a"/>
<rect x="1448.4" y="1216.9" width="332.6" height="37.5" fill="#3e3e3e"/>
<rect x="1450.7" y="1216.9" width="328.0" height="2.7" fill="#4a4a4a"/>
<rect x="1778.8" y="1216.9" width="186.9" height="37.5" fill="#3e3e3e"/>
<rect x="1781.1" y="1216.9" width="182.3" height="2.7" fill="#4a4a4a"/>
<rect x="1778.4" y="1219.6" width="2.7" height="34.8" fill="#121612"/>
<rect x="2202.0" y="1218.6" width="79.7" height="35.8" fill="#3e3e3e"/>
<rect x="2204.3" y="1218.6" width="75.1" height="2.7" fill="#4a4a4a"/>
<rect x="2627.3" y="1216.9" width="138.9" height="37.5" fill="#3e3e3e"/>
<rect x="2629.6" y="1216.9" width="134.3" height="2.7" fill="#4a4a4a"/>
<rect x="2955.1" y="1216.9" width="152.9" height="37.5" fill="#3e3e3e"/>
<rect x="2957.4" y="1216.9" width="148.3" height="2.7" fill="#4a4a4a"/>
<rect x="1273.1" y="1219.6" width="139.1" height="34.8" fill="#002d2d"/>
<rect x="1275.4" y="1219.6" width="134.5" height="2.5" fill="#004c4c"/>
<rect x="1275.4" y="1222.1" width="134.5" height="30.0" fill="#009999"/>
<rect x="1277.2" y="1222.1" width="130.9" height="30.0" fill="#00dbdb"/>
<rect x="1279.2" y="1224.1" width="126.9" height="25.5" fill="#00ffff"/>
<rect x="1450.7" y="1219.6" width="328.0" height="34.8" fill="#2d0000"/>
<rect x="1453.0" y="1219.6" width="323.4" height="2.5" fill="#4c0000"/>
<rect x="1453.0" y="1222.1" width="323.4" height="30.0" fill="#990000"/>
<rect x="1454.8" y="1222.1" width="319.8" height="30.0" fill="#db0000"/>
<rect x="1456.8" y="1224.1" width="315.8" height="25.5" fill="#ff0000"/>
<rect x="1781.1" y="1219.6" width="182.3" height="34.8" fill="#172d00"/>
<rect x="1781.1" y="1219.6" width="180.0" height="2.5" fill="#264c00"/>
<rect x="1781.1" y="1222.1" width="180.0" height="30.0" fill="#4c9900"/>
<rect x="1782.9" y="1222.1" width="176.4" height="30.0" fill="#6edb00"/>
<rect x="1784.9" y="1224.1" width="172.4" height="25.5" fill="#80ff00"/>
<rect x="2204.3" y="1221.3" width="75.1" height="33.1" fill="#000b2d"/>
<rect x="2206.6" y="1221.3" width="70.5" height="2.5" fill="#00134c"/>
<rect x="2206.6" y="1223.8" width="70.5" height="28.3" fill="#002699"/>
<rect x="2208.4" y="1223.8" width="66.9" height="28.3" fill="#0037db"/>
<rect x="2210.4" y="1225.8" width="62.9" height="23.8" fill="#0040ff"/>
<rect x="2629.6" y="1219.6" width="134.3" height="34.8" fill="#001c2d"/>
<rect x="2631.9" y="1219.6" width="129.7" height="2.5" fill="#00304c"/>
<rect x="2631.9" y="1222.1" width="129.7" height="30.0" fill="#006099"/>
<rect x="2633.7" y="1222.1" width="126.1" height="30.0" fill="#0089db"/>
<rect x="2635.7" y="1224.1" width="122.1" height="25.5" fill="#00a0ff"/>
<rect x="2957.4" y="1219.6" width="148.3" height="34.8" fill="#052d00"/>
<rect x="2959.7" y="1219.6" width="143.7" height="2.5" fill="#094c00"/>
<rect x="2959.7" y="1222.1" width="143.7" height="30.0" fill="#139900"/>
<rect x="2961.5" y="1222.1" width="140.1" height="30.0" fill="#1bdb00"/>
<rect x="2963.5" y="1224.1" width="136.1" height="25.5" fill="#20ff00"/>
<line x1="1111.0" y1="1253.2" x2="3124" y2="1253.2" stroke="#4c4c4c" stroke-width="3.2"/>
<line x1="1110.2" y1="1326.9" x2="2731.6" y2="1326.9" stroke="#bebebe" stroke-width="7.8"/>
<rect x="1179.1" y="1295.8" width="46.9" height="32.1" fill="#e9e9e9"/>
<rect x="1176.4" y="1298.8" width="52.3" height="26.1" fill="#c6c6c8"/>
<rect x="1442.1" y="1287.4" width="143.7" height="40.5" fill="#e9e9e9"/>
<rect x="1439.4" y="1290.4" width="149.1" height="34.5" fill="#c6c6c8"/>
<rect x="1630.9" y="1287.4" width="333.7" height="40.5" fill="#e9e9e9"/>
<rect x="1628.2" y="1290.4" width="339.1" height="34.5" fill="#c6c6c8"/>
<rect x="1962.4" y="1287.4" width="186.0" height="40.5" fill="#e9e9e9"/>
<rect x="1959.7" y="1290.4" width="191.4" height="34.5" fill="#c6c6c8"/>
<rect x="2182.7" y="1289.8" width="79.6" height="38.1" fill="#e9e9e9"/>
<rect x="2180.0" y="1292.8" width="85.0" height="32.1" fill="#c6c6c8"/>
<rect x="2529.8" y="1304.4" width="78.0" height="23.5" fill="#e9e9e9"/>
<rect x="2527.1" y="1307.4" width="83.4" height="17.5" fill="#c6c6c8"/>
<rect x="1179.1" y="1298.8" width="46.9" height="29.1" fill="#3e3e3e"/>
<rect x="1181.4" y="1298.8" width="42.3" height="2.7" fill="#4a4a4a"/>
<rect x="1442.1" y="1290.4" width="143.7" height="37.5" fill="#3e3e3e"/>
<rect x="1444.4" y="1290.4" width="139.1" height="2.7" fill="#4a4a4a"/>
<rect x="1630.9" y="1290.4" width="333.7" height="37.5" fill="#3e3e3e"/>
<rect x="1633.2" y="1290.4" width="329.1" height="2.7" fill="#4a4a4a"/>
<rect x="1962.4" y="1290.4" width="186.0" height="37.5" fill="#3e3e3e"/>
<rect x="1964.7" y="1290.4" width="181.4" height="2.7" fill="#4a4a4a"/>
<rect x="1962.0" y="1293.1" width="2.7" height="34.8" fill="#121612"/>
<rect x="2182.7" y="1292.8" width="79.6" height="35.1" fill="#3e3e3e"/>
<rect x="2185.0" y="1292.8" width="75.0" height="2.7" fill="#4a4a4a"/>
<rect x="2529.8" y="1307.4" width="78.0" height="20.5" fill="#3e3e3e"/>
<rect x="2532.1" y="1307.4" width="73.4" height="2.7" fill="#4a4a4a"/>
<rect x="1181.4" y="1301.5" width="42.3" height="26.4" fill="#2d2b00"/>
<rect x="1183.7" y="1301.5" width="37.7" height="2.5" fill="#4c4800"/>
<rect x="1183.7" y="1304.0" width="37.7" height="21.6" fill="#999000"/>
<rect x="1185.5" y="1304.0" width="34.1" height="21.6" fill="#dbce00"/>
<rect x="1187.5" y="1306.0" width="30.1" height="17.1" fill="#fff000"/>
<rect x="1444.4" y="1293.1" width="139.1" height="34.8" fill="#002d2d"/>
<rect x="1446.7" y="1293.1" width="134.5" height="2.5" fill="#004c4c"/>
<rect x="1446.7" y="1295.6" width="134.5" height="30.0" fill="#009999"/>
<rect x="1448.5" y="1295.6" width="130.9" height="30.0" fill="#00dbdb"/>
<rect x="1450.5" y="1297.6" width="126.9" height="25.5" fill="#00ffff"/>
<rect x="1633.2" y="1293.1" width="329.1" height="34.8" fill="#2d0000"/>
<rect x="1635.5" y="1293.1" width="324.5" height="2.5" fill="#4c0000"/>
<rect x="1635.5" y="1295.6" width="324.5" height="30.0" fill="#990000"/>
<rect x="1637.3" y="1295.6" width="320.9" height="30.0" fill="#db0000"/>
<rect x="1639.3" y="1297.6" width="316.9" height="25.5" fill="#ff0000"/>
<rect x="1964.7" y="1293.1" width="181.4" height="34.8" fill="#172d00"/>
<rect x="1964.7" y="1293.1" width="179.1" height="2.5" fill="#264c00"/>
<rect x="1964.7" y="1295.6" width="179.1" height="30.0" fill="#4c9900"/>
<rect x="1966.5" y="1295.6" width="175.5" height="30.0" fill="#6edb00"/>
<rect x="1968.5" y="1297.6" width="171.5" height="25.5" fill="#80ff00"/>
<rect x="2185.0" y="1295.5" width="75.0" height="32.4" fill="#000b2d"/>
<rect x="2187.3" y="1295.5" width="70.4" height="2.5" fill="#00134c"/>
<rect x="2187.3" y="1298.0" width="70.4" height="27.6" fill="#002699"/>
<rect x="2189.1" y="1298.0" width="66.8" height="27.6" fill="#0037db"/>
<rect x="2191.1" y="1300.0" width="62.8" height="23.1" fill="#0040ff"/>
<rect x="2532.1" y="1310.1" width="73.4" height="17.8" fill="#2d2126"/>
<rect x="2534.4" y="1310.1" width="68.8" height="2.5" fill="#4c3740"/>
<rect x="2534.4" y="1312.6" width="68.8" height="13.0" fill="#996e81"/>
<rect x="2536.2" y="1312.6" width="65.2" height="13.0" fill="#db9eb9"/>
<rect x="2538.2" y="1314.6" width="61.2" height="8.5" fill="#ffb8d8"/>
<line x1="1111.0" y1="1326.7" x2="2729.6" y2="1326.7" stroke="#4c4c4c" stroke-width="3.2"/>
<line x1="1110.2" y1="1400.3" x2="2718.3" y2="1400.3" stroke="#bebebe" stroke-width="7.8"/>
<rect x="1284.5" y="1360.8" width="143.8" height="40.5" fill="#e9e9e9"/>
<rect x="1281.8" y="1363.8" width="149.2" height="34.5" fill="#c6c6c8"/>
<rect x="1467.0" y="1360.8" width="331.8" height="40.5" fill="#e9e9e9"/>
<rect x="1464.3" y="1363.8" width="337.2" height="34.5" fill="#c6c6c8"/>
<rect x="1796.6" y="1360.8" width="188.5" height="40.5" fill="#e9e9e9"/>
<rect x="1793.9" y="1363.8" width="193.9" height="34.5" fill="#c6c6c8"/>
<rect x="2025.5" y="1374.2" width="44.7" height="27.1" fill="#e9e9e9"/>
<rect x="2022.8" y="1377.2" width="50.1" height="21.1" fill="#c6c6c8"/>
<rect x="1284.5" y="1363.8" width="143.8" height="37.5" fill="#3e3e3e"/>
<rect x="1286.8" y="1363.8" width="139.2" height="2.7" fill="#4a4a4a"/>
<rect x="1467.0" y="1363.8" width="331.8" height="37.5" fill="#3e3e3e"/>
<rect x="1469.3" y="1363.8" width="327.2" height="2.7" fill="#4a4a4a"/>
<rect x="1796.6" y="1363.8" width="188.5" height="37.5" fill="#3e3e3e"/>
<rect x="1798.9" y="1363.8" width="183.9" height="2.7" fill="#4a4a4a"/>
<rect x="1796.2" y="1366.5" width="2.7" height="34.8" fill="#121612"/>
<rect x="2025.5" y="1377.2" width="44.7" height="24.1" fill="#3e3e3e"/>
<rect x="2027.8" y="1377.2" width="40.1" height="2.7" fill="#4a4a4a"/>
<rect x="1286.8" y="1366.5" width="139.2" height="34.8" fill="#002d2d"/>
<rect x="1289.1" y="1366.5" width="134.6" height="2.5" fill="#004c4c"/>
<rect x="1289.1" y="1369.0" width="134.6" height="30.0" fill="#009999"/>
<rect x="1290.9" y="1369.0" width="131.0" height="30.0" fill="#00dbdb"/>
<rect x="1292.9" y="1371.0" width="127.0" height="25.5" fill="#00ffff"/>
<rect x="1469.3" y="1366.5" width="327.2" height="34.8" fill="#2d0000"/>
<rect x="1471.6" y="1366.5" width="322.6" height="2.5" fill="#4c0000"/>
<rect x="1471.6" y="1369.0" width="322.6" height="30.0" fill="#990000"/>
<rect x="1473.4" y="1369.0" width="319.0" height="30.0" fill="#db0000"/>
<rect x="1475.4" y="1371.0" width="315.0" height="25.5" fill="#ff0000"/>
<rect x="1798.9" y="1366.5" width="183.9" height="34.8" fill="#172d00"/>
<rect x="1798.9" y="1366.5" width="181.6" height="2.5" fill="#264c00"/>
<rect x="1798.9" y="1369.0" width="181.6" height="30.0" fill="#4c9900"/>
<rect x="1800.7" y="1369.0" width="178.0" height="30.0" fill="#6edb00"/>
<rect x="1802.7" y="1371.0" width="174.0" height="25.5" fill="#80ff00"/>
<rect x="2027.8" y="1379.9" width="40.1" height="21.4" fill="#2d2200"/>
<rect x="2030.1" y="1379.9" width="35.5" height="2.5" fill="#4c3900"/>
<rect x="2030.1" y="1382.4" width="35.5" height="16.6" fill="#997300"/>
<rect x="2031.9" y="1382.4" width="31.9" height="16.6" fill="#dba500"/>
<rect x="2033.9" y="1384.4" width="27.9" height="12.1" fill="#ffc000"/>
<line x1="1111.0" y1="1400.1" x2="2716.3" y2="1400.1" stroke="#4c4c4c" stroke-width="3.2"/>
<line x1="1110.2" y1="1473.8" x2="2509" y2="1473.8" stroke="#bebebe" stroke-width="7.8"/>
<rect x="1151.6" y="1434.2" width="145.6" height="40.5" fill="#e9e9e9"/>
<rect x="1148.9" y="1437.2" width="151.0" height="34.5" fill="#c6c6c8"/>
<rect x="1335.6" y="1434.2" width="332.9" height="40.5" fill="#e9e9e9"/>
<rect x="1332.9" y="1437.2" width="338.3" height="34.5" fill="#c6c6c8"/>
<rect x="1666.3" y="1434.2" width="188.4" height="40.5" fill="#e9e9e9"/>
<rect x="1663.6" y="1437.2" width="193.8" height="34.5" fill="#c6c6c8"/>
<rect x="1151.6" y="1437.2" width="145.6" height="37.5" fill="#3e3e3e"/>
<rect x="1153.9" y="1437.2" width="141.0" height="2.7" fill="#4a4a4a"/>
<rect x="1335.6" y="1437.2" width="332.9" height="37.5" fill="#3e3e3e"/>
<rect x="1337.9" y="1437.2" width="328.3" height="2.7" fill="#4a4a4a"/>
<rect x="1666.3" y="1437.2" width="188.4" height="37.5" fill="#3e3e3e"/>
<rect x="1668.6" y="1437.2" width="183.8" height="2.7" fill="#4a4a4a"/>
<rect x="1665.9" y="1440.0" width="2.7" height="34.8" fill="#121612"/>
<rect x="1153.9" y="1440.0" width="141.0" height="34.8" fill="#002d2d"/>
<rect x="1156.2" y="1440.0" width="136.4" height="2.5" fill="#004c4c"/>
<rect x="1156.2" y="1442.5" width="136.4" height="30.0" fill="#009999"/>
<rect x="1158.0" y="1442.5" width="132.8" height="30.0" fill="#00dbdb"/>
<rect x="1160.0" y="1444.5" width="128.8" height="25.5" fill="#00ffff"/>
<rect x="1337.9" y="1440.0" width="328.3" height="34.8" fill="#2d0000"/>
<rect x="1340.2" y="1440.0" width="323.7" height="2.5" fill="#4c0000"/>
<rect x="1340.2" y="1442.5" width="323.7" height="30.0" fill="#990000"/>
<rect x="1342.0" y="1442.5" width="320.1" height="30.0" fill="#db0000"/>
<rect x="1344.0" y="1444.5" width="316.1" height="25.5" fill="#ff0000"/>
<rect x="1668.6" y="1440.0" width="183.8" height="34.8" fill="#172d00"/>
<rect x="1668.6" y="1440.0" width="181.5" height="2.5" fill="#264c00"/>
<rect x="1668.6" y="1442.5" width="181.5" height="30.0" fill="#4c9900"/>
<rect x="1670.4" y="1442.5" width="177.9" height="30.0" fill="#6edb00"/>
<rect x="1672.4" y="1444.5" width="173.9" height="25.5" fill="#80ff00"/>
<line x1="1111.0" y1="1473.5" x2="2507" y2="1473.5" stroke="#4c4c4c" stroke-width="3.2"/>
<line x1="1110.2" y1="1547.2" x2="3020" y2="1547.2" stroke="#bebebe" stroke-width="7.8"/>
<rect x="1151.6" y="1507.7" width="145.6" height="40.5" fill="#e9e9e9"/>
<rect x="1148.9" y="1510.7" width="151.0" height="34.5" fill="#c6c6c8"/>
<rect x="1344.1" y="1507.7" width="331.1" height="40.5" fill="#e9e9e9"/>
<rect x="1341.4" y="1510.7" width="336.5" height="34.5" fill="#c6c6c8"/>
<rect x="1673.0" y="1507.7" width="189.1" height="40.5" fill="#e9e9e9"/>
<rect x="1670.3" y="1510.7" width="194.5" height="34.5" fill="#c6c6c8"/>
<rect x="1151.6" y="1510.7" width="145.6" height="37.5" fill="#3e3e3e"/>
<rect x="1153.9" y="1510.7" width="141.0" height="2.7" fill="#4a4a4a"/>
<rect x="1344.1" y="1510.7" width="331.1" height="37.5" fill="#3e3e3e"/>
<rect x="1346.4" y="1510.7" width="326.5" height="2.7" fill="#4a4a4a"/>
<rect x="1673.0" y="1510.7" width="189.1" height="37.5" fill="#3e3e3e"/>
<rect x="1675.3" y="1510.7" width="184.5" height="2.7" fill="#4a4a4a"/>
<rect x="1672.6" y="1513.4" width="2.7" height="34.8" fill="#121612"/>
<rect x="1153.9" y="1513.4" width="141.0" height="34.8" fill="#002d2d"/>
<rect x="1156.2" y="1513.4" width="136.4" height="2.5" fill="#004c4c"/>
<rect x="1156.2" y="1515.9" width="136.4" height="30.0" fill="#009999"/>
<rect x="1158.0" y="1515.9" width="132.8" height="30.0" fill="#00dbdb"/>
<rect x="1160.0" y="1517.9" width="128.8" height="25.5" fill="#00ffff"/>
<rect x="1346.4" y="1513.4" width="326.5" height="34.8" fill="#2d0000"/>
<rect x="1348.7" y="1513.4" width="321.9" height="2.5" fill="#4c0000"/>
<rect x="1348.7" y="1515.9" width="321.9" height="30.0" fill="#990000"/>
<rect x="1350.5" y="1515.9" width="318.3" height="30.0" fill="#db0000"/>
<rect x="1352.5" y="1517.9" width="314.3" height="25.5" fill="#ff0000"/>
<rect x="1675.3" y="1513.4" width="184.5" height="34.8" fill="#172d00"/>
<rect x="1675.3" y="1513.4" width="182.2" height="2.5" fill="#264c00"/>
<rect x="1675.3" y="1515.9" width="182.2" height="30.0" fill="#4c9900"/>
<rect x="1677.1" y="1515.9" width="178.6" height="30.0" fill="#6edb00"/>
<rect x="1679.1" y="1517.9" width="174.6" height="25.5" fill="#80ff00"/>
<line x1="1111.0" y1="1547.0" x2="3018" y2="1547.0" stroke="#4c4c4c" stroke-width="3.2"/>
<line x1="1108.4" y1="1620.7" x2="2876" y2="1620.7" stroke="#bebebe" stroke-width="7.8"/>
<rect x="1131.8" y="1581.2" width="142.6" height="40.5" fill="#e9e9e9"/>
<rect x="1129.1" y="1584.2" width="148.0" height="34.5" fill="#c6c6c8"/>
<rect x="1272.2" y="1581.2" width="75.2" height="40.5" fill="#e9e9e9"/>
<rect x="1269.5" y="1584.2" width="80.6" height="34.5" fill="#c6c6c8"/>
<rect x="1345.2" y="1581.2" width="332.6" height="40.5" fill="#e9e9e9"/>
<rect x="1342.5" y="1584.2" width="338.0" height="34.5" fill="#c6c6c8"/>
<rect x="1709.1" y="1581.2" width="118.8" height="40.5" fill="#e9e9e9"/>
<rect x="1706.4" y="1584.2" width="124.2" height="34.5" fill="#c6c6c8"/>
<rect x="1990.9" y="1581.2" width="79.3" height="40.5" fill="#e9e9e9"/>
<rect x="1988.2" y="1584.2" width="84.7" height="34.5" fill="#c6c6c8"/>
<rect x="2287.0" y="1581.2" width="79.6" height="40.5" fill="#e9e9e9"/>
<rect x="2284.3" y="1584.2" width="85.0" height="34.5" fill="#c6c6c8"/>
<rect x="1131.8" y="1584.2" width="142.6" height="37.5" fill="#3e3e3e"/>
<rect x="1134.1" y="1584.2" width="138.0" height="2.7" fill="#4a4a4a"/>
<rect x="1272.2" y="1584.2" width="75.2" height="37.5" fill="#3e3e3e"/>
<rect x="1274.5" y="1584.2" width="70.6" height="2.7" fill="#4a4a4a"/>
<rect x="1271.8" y="1586.9" width="2.7" height="34.8" fill="#121612"/>
<rect x="1345.2" y="1584.2" width="332.6" height="37.5" fill="#3e3e3e"/>
<rect x="1347.5" y="1584.2" width="328.0" height="2.7" fill="#4a4a4a"/>
<rect x="1344.8" y="1586.9" width="2.7" height="34.8" fill="#121612"/>
<rect x="1709.1" y="1584.2" width="118.8" height="37.5" fill="#3e3e3e"/>
<rect x="1711.4" y="1584.2" width="114.2" height="2.7" fill="#4a4a4a"/>
<rect x="1990.9" y="1584.2" width="79.3" height="37.5" fill="#3e3e3e"/>
<rect x="1993.2" y="1584.2" width="74.7" height="2.7" fill="#4a4a4a"/>
<rect x="2287.0" y="1584.2" width="79.6" height="37.5" fill="#3e3e3e"/>
<rect x="2289.3" y="1584.2" width="75.0" height="2.7" fill="#4a4a4a"/>
<rect x="1134.1" y="1586.9" width="138.0" height="34.8" fill="#002d2d"/>
<rect x="1136.4" y="1586.9" width="133.4" height="2.5" fill="#004c4c"/>
<rect x="1136.4" y="1589.4" width="133.4" height="30.0" fill="#009999"/>
<rect x="1138.2" y="1589.4" width="129.8" height="30.0" fill="#00dbdb"/>
<rect x="1140.2" y="1591.4" width="125.8" height="25.5" fill="#00ffff"/>
<rect x="1274.5" y="1586.9" width="70.6" height="34.8" fill="#002d0b"/>
<rect x="1274.5" y="1586.9" width="68.3" height="2.5" fill="#004c13"/>
<rect x="1274.5" y="1589.4" width="68.3" height="30.0" fill="#009926"/>
<rect x="1276.3" y="1589.4" width="64.7" height="30.0" fill="#00db37"/>
<rect x="1278.3" y="1591.4" width="60.7" height="25.5" fill="#00ff40"/>
<rect x="1347.5" y="1586.9" width="328.0" height="34.8" fill="#2d0000"/>
<rect x="1347.5" y="1586.9" width="325.7" height="2.5" fill="#4c0000"/>
<rect x="1347.5" y="1589.4" width="325.7" height="30.0" fill="#990000"/>
<rect x="1349.3" y="1589.4" width="322.1" height="30.0" fill="#db0000"/>
<rect x="1351.3" y="1591.4" width="318.1" height="25.5" fill="#ff0000"/>
<rect x="1711.4" y="1586.9" width="114.2" height="34.8" fill="#17002d"/>
<rect x="1713.7" y="1586.9" width="109.6" height="2.5" fill="#26004c"/>
<rect x="1713.7" y="1589.4" width="109.6" height="30.0" fill="#4c0099"/>
<rect x="1715.5" y="1589.4" width="106.0" height="30.0" fill="#6e00db"/>
<rect x="1717.5" y="1591.4" width="102.0" height="25.5" fill="#8000ff"/>
<rect x="1993.2" y="1586.9" width="74.7" height="34.8" fill="#2d0011"/>
<rect x="1995.5" y="1586.9" width="70.1" height="2.5" fill="#4c001c"/>
<rect x="1995.5" y="1589.4" width="70.1" height="30.0" fill="#990039"/>
<rect x="1997.3" y="1589.4" width="66.5" height="30.0" fill="#db0052"/>
<rect x="1999.3" y="1591.4" width="62.5" height="25.5" fill="#ff0060"/>
<rect x="2289.3" y="1586.9" width="75.0" height="34.8" fill="#28002d"/>
<rect x="2291.6" y="1586.9" width="70.4" height="2.5" fill="#43004c"/>
<rect x="2291.6" y="1589.4" width="70.4" height="30.0" fill="#860099"/>
<rect x="2293.4" y="1589.4" width="66.8" height="30.0" fill="#c000db"/>
<rect x="2295.4" y="1591.4" width="62.8" height="25.5" fill="#e000ff"/>
<line x1="1109.2" y1="1620.5" x2="2874" y2="1620.5" stroke="#4c4c4c" stroke-width="3.2"/>
<line x1="1108.4" y1="1694.1" x2="2397.2" y2="1694.1" stroke="#bebebe" stroke-width="7.8"/>
<rect x="1120.7" y="1654.6" width="141.8" height="40.5" fill="#e9e9e9"/>
<rect x="1118.0" y="1657.6" width="147.2" height="34.5" fill="#c6c6c8"/>
<rect x="1260.3" y="1654.6" width="74.8" height="40.5" fill="#e9e9e9"/>
<rect x="1257.6" y="1657.6" width="80.2" height="34.5" fill="#c6c6c8"/>
<rect x="1332.9" y="1654.6" width="331.9" height="40.5" fill="#e9e9e9"/>
<rect x="1330.2" y="1657.6" width="337.3" height="34.5" fill="#c6c6c8"/>
<rect x="1697.9" y="1654.6" width="117.7" height="40.5" fill="#e9e9e9"/>
<rect x="1695.2" y="1657.6" width="123.1" height="34.5" fill="#c6c6c8"/>
<rect x="1932.6" y="1654.6" width="78.8" height="40.5" fill="#e9e9e9"/>
<rect x="1929.9" y="1657.6" width="84.2" height="34.5" fill="#c6c6c8"/>
<rect x="2108.9" y="1654.6" width="60.3" height="40.5" fill="#e9e9e9"/>
<rect x="2106.2" y="1657.6" width="65.7" height="34.5" fill="#c6c6c8"/>
<rect x="2167.0" y="1674.0" width="55.1" height="21.1" fill="#e9e9e9"/>
<rect x="2164.3" y="1677.0" width="60.5" height="15.1" fill="#c6c6c8"/>
<rect x="2242.3" y="1654.6" width="138.1" height="40.5" fill="#e9e9e9"/>
<rect x="2239.6" y="1657.6" width="143.5" height="34.5" fill="#c6c6c8"/>
<rect x="1120.7" y="1657.6" width="141.8" height="37.5" fill="#3e3e3e"/>
<rect x="1123.0" y="1657.6" width="137.2" height="2.7" fill="#4a4a4a"/>
<rect x="1260.3" y="1657.6" width="74.8" height="37.5" fill="#3e3e3e"/>
<rect x="1262.6" y="1657.6" width="70.2" height="2.7" fill="#4a4a4a"/>
<rect x="1259.9" y="1660.3" width="2.7" height="34.8" fill="#121612"/>
<rect x="1332.9" y="1657.6" width="331.9" height="37.5" fill="#3e3e3e"/>
<rect x="1335.2" y="1657.6" width="327.3" height="2.7" fill="#4a4a4a"/>
<rect x="1332.5" y="1660.3" width="2.7" height="34.8" fill="#121612"/>
<rect x="1697.9" y="1657.6" width="117.7" height="37.5" fill="#3e3e3e"/>
<rect x="1700.2" y="1657.6" width="113.1" height="2.7" fill="#4a4a4a"/>
<rect x="1932.6" y="1657.6" width="78.8" height="37.5" fill="#3e3e3e"/>
<rect x="1934.9" y="1657.6" width="74.2" height="2.7" fill="#4a4a4a"/>
<rect x="2108.9" y="1657.6" width="60.3" height="37.5" fill="#3e3e3e"/>
<rect x="2111.2" y="1657.6" width="55.7" height="2.7" fill="#4a4a4a"/>
<rect x="2167.0" y="1677.0" width="55.1" height="18.1" fill="#3e3e3e"/>
<rect x="2169.3" y="1677.0" width="50.5" height="2.7" fill="#4a4a4a"/>
<rect x="2166.6" y="1679.7" width="2.7" height="15.4" fill="#121612"/>
<rect x="2242.3" y="1657.6" width="138.1" height="37.5" fill="#3e3e3e"/>
<rect x="2244.6" y="1657.6" width="133.5" height="2.7" fill="#4a4a4a"/>
<rect x="1123.0" y="1660.3" width="137.2" height="34.8" fill="#002d2d"/>
<rect x="1125.3" y="1660.3" width="132.6" height="2.5" fill="#004c4c"/>
<rect x="1125.3" y="1662.8" width="132.6" height="30.0" fill="#009999"/>
<rect x="1127.1" y="1662.8" width="129.0" height="30.0" fill="#00dbdb"/>
<rect x="1129.1" y="1664.8" width="125.0" height="25.5" fill="#00ffff"/>
<rect x="1262.6" y="1660.3" width="70.2" height="34.8" fill="#002d0b"/>
<rect x="1262.6" y="1660.3" width="67.9" height="2.5" fill="#004c13"/>
<rect x="1262.6" y="1662.8" width="67.9" height="30.0" fill="#009926"/>
<rect x="1264.4" y="1662.8" width="64.3" height="30.0" fill="#00db37"/>
<rect x="1266.4" y="1664.8" width="60.3" height="25.5" fill="#00ff40"/>
<rect x="1335.2" y="1660.3" width="327.3" height="34.8" fill="#2d0000"/>
<rect x="1335.2" y="1660.3" width="325.0" height="2.5" fill="#4c0000"/>
<rect x="1335.2" y="1662.8" width="325.0" height="30.0" fill="#990000"/>
<rect x="1337.0" y="1662.8" width="321.4" height="30.0" fill="#db0000"/>
<rect x="1339.0" y="1664.8" width="317.4" height="25.5" fill="#ff0000"/>
<rect x="1700.2" y="1660.3" width="113.1" height="34.8" fill="#17002d"/>
<rect x="1702.5" y="1660.3" width="108.5" height="2.5" fill="#26004c"/>
<rect x="1702.5" y="1662.8" width="108.5" height="30.0" fill="#4c0099"/>
<rect x="1704.3" y="1662.8" width="104.9" height="30.0" fill="#6e00db"/>
<rect x="1706.3" y="1664.8" width="100.9" height="25.5" fill="#8000ff"/>
<rect x="1934.9" y="1660.3" width="74.2" height="34.8" fill="#1f2d00"/>
<rect x="1937.2" y="1660.3" width="69.6" height="2.5" fill="#344c00"/>
<rect x="1937.2" y="1662.8" width="69.6" height="30.0" fill="#699900"/>
<rect x="1939.0" y="1662.8" width="66.0" height="30.0" fill="#97db00"/>
<rect x="1941.0" y="1664.8" width="62.0" height="25.5" fill="#b0ff00"/>
<rect x="2111.2" y="1660.3" width="55.7" height="34.8" fill="#002d1c"/>
<rect x="2113.5" y="1660.3" width="51.1" height="2.5" fill="#004c30"/>
<rect x="2113.5" y="1662.8" width="51.1" height="30.0" fill="#009960"/>
<rect x="2115.3" y="1662.8" width="47.5" height="30.0" fill="#00db89"/>
<rect x="2117.3" y="1664.8" width="43.5" height="25.5" fill="#00ffa0"/>
<rect x="2169.3" y="1679.7" width="50.5" height="15.4" fill="#212d29"/>
<rect x="2169.3" y="1679.7" width="48.2" height="2.5" fill="#374c45"/>
<rect x="2169.3" y="1682.2" width="48.2" height="10.6" fill="#6e998b"/>
<rect x="2171.1" y="1682.2" width="44.6" height="10.6" fill="#9edbc7"/>
<rect x="2173.1" y="1684.2" width="40.6" height="6.1" fill="#b8ffe8"/>
<rect x="2244.6" y="1660.3" width="133.5" height="34.8" fill="#001c2d"/>
<rect x="2246.9" y="1660.3" width="128.9" height="2.5" fill="#00304c"/>
<rect x="2246.9" y="1662.8" width="128.9" height="30.0" fill="#006099"/>
<rect x="2248.7" y="1662.8" width="125.3" height="30.0" fill="#0089db"/>
<rect x="2250.7" y="1664.8" width="121.3" height="25.5" fill="#00a0ff"/>
<line x1="1109.2" y1="1693.9" x2="2395.2" y2="1693.9" stroke="#4c4c4c" stroke-width="3.2"/>
<line x1="1108.4" y1="1767.6" x2="2515.3" y2="1767.6" stroke="#bebebe" stroke-width="7.8"/>
<rect x="1120.7" y="1728.1" width="141.8" height="40.5" fill="#e9e9e9"/>
<rect x="1118.0" y="1731.1" width="147.2" height="34.5" fill="#c6c6c8"/>
<rect x="1260.3" y="1728.1" width="74.8" height="40.5" fill="#e9e9e9"/>
<rect x="1257.6" y="1731.1" width="80.2" height="34.5" fill="#c6c6c8"/>
<rect x="1332.9" y="1728.1" width="331.9" height="40.5" fill="#e9e9e9"/>
<rect x="1330.2" y="1731.1" width="337.3" height="34.5" fill="#c6c6c8"/>
<rect x="1697.9" y="1728.1" width="117.7" height="40.5" fill="#e9e9e9"/>
<rect x="1695.2" y="1731.1" width="123.1" height="34.5" fill="#c6c6c8"/>
<rect x="2064.2" y="1728.1" width="79.7" height="40.5" fill="#e9e9e9"/>
<rect x="2061.5" y="1731.1" width="85.1" height="34.5" fill="#c6c6c8"/>
<rect x="2359.6" y="1728.1" width="137.4" height="40.5" fill="#e9e9e9"/>
<rect x="2356.9" y="1731.1" width="142.8" height="34.5" fill="#c6c6c8"/>
<rect x="1120.7" y="1731.1" width="141.8" height="37.5" fill="#3e3e3e"/>
<rect x="1123.0" y="1731.1" width="137.2" height="2.7" fill="#4a4a4a"/>
<rect x="1260.3" y="1731.1" width="74.8" height="37.5" fill="#3e3e3e"/>
<rect x="1262.6" y="1731.1" width="70.2" height="2.7" fill="#4a4a4a"/>
<rect x="1259.9" y="1733.8" width="2.7" height="34.8" fill="#121612"/>
<rect x="1332.9" y="1731.1" width="331.9" height="37.5" fill="#3e3e3e"/>
<rect x="1335.2" y="1731.1" width="327.3" height="2.7" fill="#4a4a4a"/>
<rect x="1332.5" y="1733.8" width="2.7" height="34.8" fill="#121612"/>
<rect x="1697.9" y="1731.1" width="117.7" height="37.5" fill="#3e3e3e"/>
<rect x="1700.2" y="1731.1" width="113.1" height="2.7" fill="#4a4a4a"/>
<rect x="2064.2" y="1731.1" width="79.7" height="37.5" fill="#3e3e3e"/>
<rect x="2066.5" y="1731.1" width="75.1" height="2.7" fill="#4a4a4a"/>
<rect x="2359.6" y="1731.1" width="137.4" height="37.5" fill="#3e3e3e"/>
<rect x="2361.9" y="1731.1" width="132.8" height="2.7" fill="#4a4a4a"/>
<rect x="1123.0" y="1733.8" width="137.2" height="34.8" fill="#002d2d"/>
<rect x="1125.3" y="1733.8" width="132.6" height="2.5" fill="#004c4c"/>
<rect x="1125.3" y="1736.3" width="132.6" height="30.0" fill="#009999"/>
<rect x="1127.1" y="1736.3" width="129.0" height="30.0" fill="#00dbdb"/>
<rect x="1129.1" y="1738.3" width="125.0" height="25.5" fill="#00ffff"/>
<rect x="1262.6" y="1733.8" width="70.2" height="34.8" fill="#002d0b"/>
<rect x="1262.6" y="1733.8" width="67.9" height="2.5" fill="#004c13"/>
<rect x="1262.6" y="1736.3" width="67.9" height="30.0" fill="#009926"/>
<rect x="1264.4" y="1736.3" width="64.3" height="30.0" fill="#00db37"/>
<rect x="1266.4" y="1738.3" width="60.3" height="25.5" fill="#00ff40"/>
<rect x="1335.2" y="1733.8" width="327.3" height="34.8" fill="#2d0000"/>
<rect x="1335.2" y="1733.8" width="325.0" height="2.5" fill="#4c0000"/>
<rect x="1335.2" y="1736.3" width="325.0" height="30.0" fill="#990000"/>
<rect x="1337.0" y="1736.3" width="321.4" height="30.0" fill="#db0000"/>
<rect x="1339.0" y="1738.3" width="317.4" height="25.5" fill="#ff0000"/>
<rect x="1700.2" y="1733.8" width="113.1" height="34.8" fill="#17002d"/>
<rect x="1702.5" y="1733.8" width="108.5" height="2.5" fill="#26004c"/>
<rect x="1702.5" y="1736.3" width="108.5" height="30.0" fill="#4c0099"/>
<rect x="1704.3" y="1736.3" width="104.9" height="30.0" fill="#6e00db"/>
<rect x="1706.3" y="1738.3" width="100.9" height="25.5" fill="#8000ff"/>
<rect x="2066.5" y="1733.8" width="75.1" height="34.8" fill="#1f2d00"/>
<rect x="2068.8" y="1733.8" width="70.5" height="2.5" fill="#344c00"/>
<rect x="2068.8" y="1736.3" width="70.5" height="30.0" fill="#699900"/>
<rect x="2070.6" y="1736.3" width="66.9" height="30.0" fill="#97db00"/>
<rect x="2072.6" y="1738.3" width="62.9" height="25.5" fill="#b0ff00"/>
<rect x="2361.9" y="1733.8" width="132.8" height="34.8" fill="#001c2d"/>
<rect x="2364.2" y="1733.8" width="128.2" height="2.5" fill="#00304c"/>
<rect x="2364.2" y="1736.3" width="128.2" height="30.0" fill="#006099"/>
<rect x="2366.0" y="1736.3" width="124.6" height="30.0" fill="#0089db"/>
<rect x="2368.0" y="1738.3" width="120.6" height="25.5" fill="#00a0ff"/>
<line x1="1109.2" y1="1767.4" x2="2513.3" y2="1767.4" stroke="#4c4c4c" stroke-width="3.2"/>
<rect x="2938.4" y="93.4" width="169.0" height="32.6" fill="#c2c2c2"/>
<rect x="2940.4" y="95.5" width="165.0" height="29.5" fill="#890a0a"/>
<rect x="2943.4" y="98.3" width="159.0" height="23.9" fill="#ff0000"/>
<rect x="2938.4" y="127.8" width="72.9" height="32.6" fill="#c2c2c2"/>
<rect x="2940.4" y="129.9" width="68.9" height="29.5" fill="#0a8989"/>
<rect x="2943.4" y="132.7" width="62.9" height="23.9" fill="#00ffff"/>
<rect x="2938.4" y="162.3" width="96.2" height="32.6" fill="#c2c2c2"/>
<rect x="2940.4" y="164.4" width="92.2" height="29.5" fill="#4a890a"/>
<rect x="2943.4" y="167.2" width="86.2" height="23.9" fill="#80ff00"/>
<rect x="2938.4" y="196.7" width="60.5" height="32.6" fill="#c2c2c2"/>
<rect x="2940.4" y="198.8" width="56.5" height="29.5" fill="#4a0a89"/>
<rect x="2943.4" y="201.6" width="50.5" height="23.9" fill="#8000ff"/>
<rect x="2938.4" y="231.1" width="24.0" height="32.6" fill="#c2c2c2"/>
<rect x="2940.4" y="233.2" width="20.0" height="29.5" fill="#896a0a"/>
<rect x="2943.4" y="236.0" width="14.0" height="23.9" fill="#ffc000"/>
<rect x="2938.4" y="265.6" width="40.5" height="32.6" fill="#c2c2c2"/>
<rect x="2940.4" y="267.7" width="36.5" height="29.5" fill="#0a892a"/>
<rect x="2943.4" y="270.4" width="30.5" height="23.9" fill="#00ff40"/>
<rect x="2938.4" y="300.0" width="40.5" height="32.6" fill="#c2c2c2"/>
<rect x="2940.4" y="302.1" width="36.5" height="29.5" fill="#0a2a89"/>
<rect x="2943.4" y="304.9" width="30.5" height="23.9" fill="#0040ff"/>
<rect x="2938.4" y="334.4" width="76.2" height="32.6" fill="#c2c2c2"/>
<rect x="2940.4" y="336.5" width="72.2" height="29.5" fill="#890a6a"/>
<rect x="2943.4" y="339.3" width="66.2" height="23.9" fill="#ff00c0"/>
<rect x="2938.4" y="368.8" width="86.6" height="32.6" fill="#c2c2c2"/>
<rect x="2940.4" y="370.9" width="82.6" height="29.5" fill="#893a0a"/>
<rect x="2943.4" y="373.7" width="76.6" height="23.9" fill="#ff6000"/>
<rect x="2938.4" y="403.3" width="26.8" height="32.6" fill="#c2c2c2"/>
<rect x="2940.4" y="405.4" width="22.8" height="29.5" fill="#7a890a"/>
<rect x="2943.4" y="408.2" width="16.8" height="23.9" fill="#e0ff00"/>
<rect x="2938.4" y="437.7" width="76.2" height="32.6" fill="#c2c2c2"/>
<rect x="2940.4" y="439.8" width="72.2" height="29.5" fill="#1a890a"/>
<rect x="2943.4" y="442.6" width="66.2" height="23.9" fill="#20ff00"/>
<rect x="2938.4" y="472.1" width="29.8" height="32.6" fill="#c2c2c2"/>
<rect x="2940.4" y="474.2" width="25.8" height="29.5" fill="#0a895a"/>
<rect x="2943.4" y="477.0" width="19.8" height="23.9" fill="#00ffa0"/>
<rect x="2938.4" y="506.6" width="70.2" height="32.6" fill="#c2c2c2"/>
<rect x="2940.4" y="508.7" width="66.2" height="29.5" fill="#0a5a89"/>
<rect x="2943.4" y="511.5" width="60.2" height="23.9" fill="#00a0ff"/>
<rect x="2938.4" y="541.0" width="36.7" height="32.6" fill="#c2c2c2"/>
<rect x="2940.4" y="543.1" width="32.7" height="29.5" fill="#1a0a89"/>
<rect x="2943.4" y="545.9" width="26.7" height="23.9" fill="#2000ff"/>
<rect x="2938.4" y="575.4" width="40.5" height="32.6" fill="#c2c2c2"/>
<rect x="2940.4" y="577.5" width="36.5" height="29.5" fill="#7a0a89"/>
<rect x="2943.4" y="580.3" width="30.5" height="23.9" fill="#e000ff"/>
<rect x="2938.4" y="609.9" width="40.5" height="32.6" fill="#c2c2c2"/>
<rect x="2940.4" y="612.0" width="36.5" height="29.5" fill="#890a3a"/>
<rect x="2943.4" y="614.8" width="30.5" height="23.9" fill="#ff0060"/>
<rect x="2938.4" y="644.3" width="30.3" height="32.6" fill="#c2c2c2"/>
<rect x="2940.4" y="646.4" width="26.3" height="29.5" fill="#89220a"/>
<rect x="2943.4" y="649.2" width="20.3" height="23.9" fill="#ff3000"/>
<rect x="2938.4" y="678.7" width="23.5" height="32.6" fill="#c2c2c2"/>
<rect x="2940.4" y="680.8" width="19.5" height="29.5" fill="#89520a"/>
<rect x="2943.4" y="683.6" width="13.5" height="23.9" fill="#ff9000"/>
<rect x="2938.4" y="713.1" width="23.5" height="32.6" fill="#c2c2c2"/>
<rect x="2940.4" y="715.2" width="19.5" height="29.5" fill="#89820a"/>
<rect x="2943.4" y="718.0" width="13.5" height="23.9" fill="#fff000"/>
<rect x="2938.4" y="747.6" width="40.5" height="32.6" fill="#c2c2c2"/>
<rect x="2940.4" y="749.7" width="36.5" height="29.5" fill="#62890a"/>
<rect x="2943.4" y="752.5" width="30.5" height="23.9" fill="#b0ff00"/>
</g><g filter="url(#bt)">
<text class="bs" text-anchor="end" transform="translate(715.0,89.0) scale(0.535,1)">100</text>
<text class="bs" text-anchor="end" transform="translate(715.0,295.9) scale(0.535,1)">100</text>
<text class="bs" text-anchor="end" transform="translate(618.5,162.5) scale(0.535,1)">35</text>
<text class="bs" text-anchor="end" transform="translate(715.0,382.8) scale(0.535,1)">100</text>
<text class="bs" text-anchor="end" transform="translate(715.0,589.7) scale(0.535,1)">100</text>
<text class="bs" text-anchor="end" transform="translate(618.5,516.3) scale(0.535,1)">85</text>
<text class="bs" text-anchor="end" transform="translate(521.5,309.4) scale(0.535,1)">58</text>
<text class="bs" text-anchor="end" transform="translate(715.0,676.6) scale(0.535,1)">99</text>
<text class="bs" text-anchor="end" transform="translate(715.0,1030.4) scale(0.535,1)">88</text>
<text class="bs" text-anchor="end" transform="translate(618.5,975.3) scale(0.535,1)">48</text>
<text class="bs" text-anchor="end" transform="translate(521.5,911.1) scale(0.535,1)">75</text>
<text class="bs" text-anchor="end" transform="translate(424.5,823.8) scale(0.535,1)">81</text>
<text class="bs" text-anchor="end" transform="translate(327.5,536.6) scale(0.535,1)">28</text>
<text class="bs" text-anchor="end" transform="translate(715.0,1250.8) scale(0.535,1)">100</text>
<text class="bs" text-anchor="end" transform="translate(618.5,1195.7) scale(0.535,1)">71</text>
<text class="bs" text-anchor="end" transform="translate(230.5,836.1) scale(0.535,1)">22</text>
<text class="bs" text-anchor="end" transform="translate(715.0,1544.6) scale(0.535,1)">53</text>
<text class="bs" text-anchor="end" transform="translate(618.5,1489.5) scale(0.535,1)">43</text>
<text class="bs" text-anchor="end" transform="translate(521.5,1425.2) scale(0.535,1)">93</text>
<text class="bs" text-anchor="end" transform="translate(715.0,1764.9) scale(0.535,1)">99</text>
<text class="bs" text-anchor="end" transform="translate(618.5,1709.8) scale(0.535,1)">100</text>
<text class="lab" transform="translate(836.8,81.2) scale(1.075,1)">DcaLBD1</text>
<text class="lab" transform="translate(836.8,154.7) scale(1.075,1)">DcaLBD11</text>
<text class="lab" transform="translate(836.8,228.1) scale(1.075,1)">DcaLBD13</text>
<text class="lab" transform="translate(836.8,301.6) scale(1.075,1)">DcaLBD15</text>
<text class="lab" transform="translate(836.8,375.0) scale(1.075,1)">DcaLBD3</text>
<text class="lab" transform="translate(836.8,448.4) scale(1.075,1)">DcaLBD4</text>
<text class="lab" transform="translate(836.8,521.9) scale(1.075,1)">DcaLBD12a</text>
<text class="lab" transform="translate(836.8,595.3) scale(1.075,1)">DcaLBD12b</text>
<text class="lab" transform="translate(836.8,668.8) scale(1.075,1)">DcaLBD25</text>
<text class="lab" transform="translate(836.8,742.2) scale(1.075,1)">DcaLOB</text>
<text class="lab" transform="translate(836.8,815.7) scale(1.075,1)">DcaLBD6</text>
<text class="lab" transform="translate(836.8,889.1) scale(1.075,1)">DcaLBD36</text>
<text class="lab" transform="translate(836.8,962.6) scale(1.075,1)">DcaLBD10a</text>
<text class="lab" transform="translate(836.8,1036.0) scale(1.075,1)">DcaLBD10b</text>
<text class="lab" transform="translate(836.8,1109.5) scale(1.075,1)">DcaLBD23</text>
<text class="lab" transform="translate(836.8,1183.0) scale(1.075,1)">DcaLBD22a</text>
<text class="lab" transform="translate(836.8,1256.4) scale(1.075,1)">DcaLBD22b</text>
<text class="lab" transform="translate(836.8,1329.9) scale(1.075,1)">DcaLBD20</text>
<text class="lab" transform="translate(836.8,1403.3) scale(1.075,1)">DcaLBD18</text>
<text class="lab" transform="translate(836.8,1476.8) scale(1.075,1)">DcaLBD14</text>
<text class="lab" transform="translate(836.8,1550.2) scale(1.075,1)">DcaLBD16</text>
<text class="lab" transform="translate(836.8,1623.7) scale(1.075,1)">DcaLBD41</text>
<text class="lab" transform="translate(836.8,1697.1) scale(1.075,1)">DcaLBD37</text>
<text class="lab" transform="translate(836.8,1770.6) scale(1.075,1)">DcaLBD38</text>
<text class="hd" transform="translate(2810,76.3) scale(1.15,1)">Motif</text>
<text class="hd" transform="translate(2941,76.3) scale(1.15,1)">Symbol</text>
<text class="ln" text-anchor="end" transform="translate(2909,118.5) scale(1.22,1)">1.</text>
<text class="ln" text-anchor="end" transform="translate(2909,152.9) scale(1.22,1)">2.</text>
<text class="ln" text-anchor="end" transform="translate(2909,187.4) scale(1.22,1)">3.</text>
<text class="ln" text-anchor="end" transform="translate(2909,221.8) scale(1.22,1)">4.</text>
<text class="ln" text-anchor="end" transform="translate(2909,256.2) scale(1.22,1)">5.</text>
<text class="ln" text-anchor="end" transform="translate(2909,290.6) scale(1.22,1)">6.</text>
<text class="ln" text-anchor="end" transform="translate(2909,325.1) scale(1.22,1)">7.</text>
<text class="ln" text-anchor="end" transform="translate(2909,359.5) scale(1.22,1)">8.</text>
<text class="ln" text-anchor="end" transform="translate(2909,393.9) scale(1.22,1)">9.</text>
<text class="ln" text-anchor="end" transform="translate(2909,428.4) scale(1.22,1)">10.</text>
<text class="ln" text-anchor="end" transform="translate(2909,462.8) scale(1.22,1)">11.</text>
<text class="ln" text-anchor="end" transform="translate(2909,497.2) scale(1.22,1)">12.</text>
<text class="ln" text-anchor="end" transform="translate(2909,531.7) scale(1.22,1)">13.</text>
<text class="ln" text-anchor="end" transform="translate(2909,566.1) scale(1.22,1)">14.</text>
<text class="ln" text-anchor="end" transform="translate(2909,600.5) scale(1.22,1)">15.</text>
<text class="ln" text-anchor="end" transform="translate(2909,635.0) scale(1.22,1)">16.</text>
<text class="ln" text-anchor="end" transform="translate(2909,669.4) scale(1.22,1)">17.</text>
<text class="ln" text-anchor="end" transform="translate(2909,703.8) scale(1.22,1)">18.</text>
<text class="ln" text-anchor="end" transform="translate(2909,738.2) scale(1.22,1)">19.</text>
<text class="ln" text-anchor="end" transform="translate(2909,772.7) scale(1.22,1)">20.</text>
</g></svg></body></html>
